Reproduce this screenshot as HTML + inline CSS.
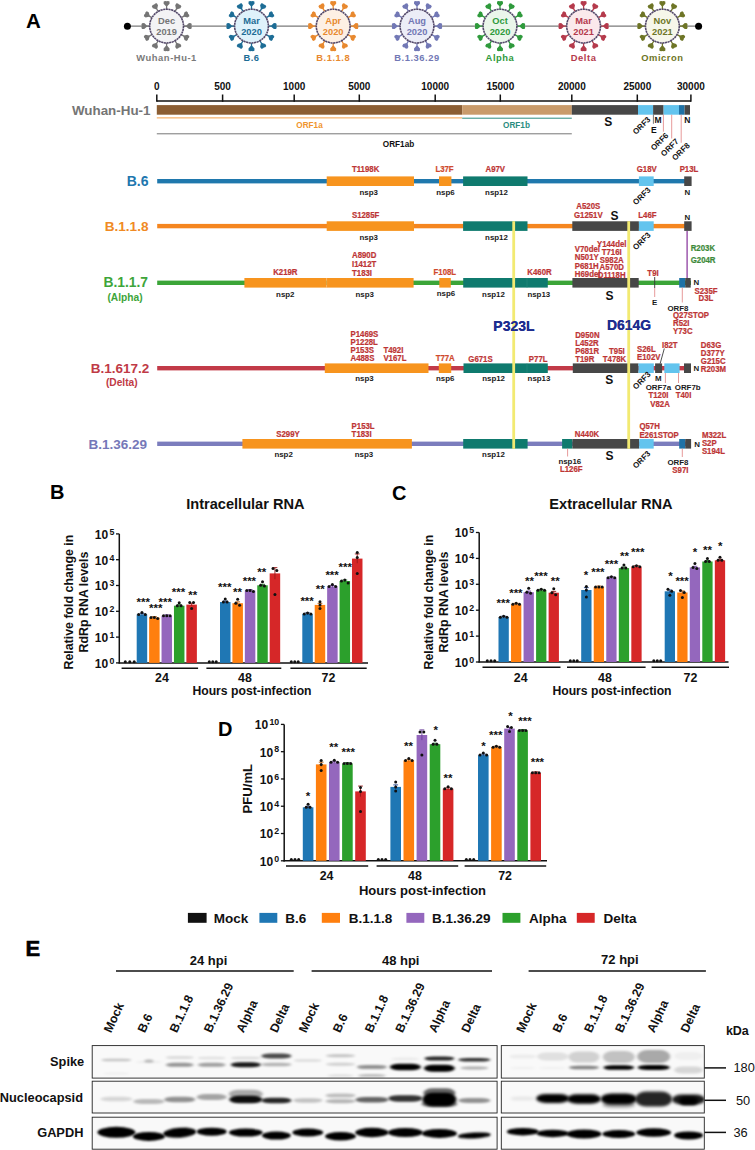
<!DOCTYPE html>
<html><head><meta charset="utf-8"><style>
html,body{margin:0;padding:0;background:#fff;}
body{width:755px;height:1150px;overflow:hidden;}
svg{display:block;font-family:"Liberation Sans", sans-serif;}
</style></head><body>
<svg width="755" height="1150" viewBox="0 0 755 1150">
<rect width="755" height="1150" fill="#fff"/>
<line x1="127.00" y1="26.20" x2="699.00" y2="26.20" stroke="#7a7a7a" stroke-width="1.3" />
<circle cx="127.4" cy="26.3" r="3.5" fill="#000"/>
<circle cx="698.6" cy="26.3" r="3.5" fill="#000"/>
<g>
<line x1="183.60" y1="26.10" x2="187.60" y2="26.10" stroke="#757575" stroke-width="1.3" />
<polygon points="186.60,26.90 189.00,29.10 191.20,29.00 191.80,27.50 191.40,26.10 191.80,24.70 191.20,23.20 189.00,23.10 186.60,25.30" fill="#757575"/>
<line x1="181.32" y1="34.60" x2="184.79" y2="36.60" stroke="#757575" stroke-width="1.3" />
<polygon points="183.52,36.79 184.50,39.90 186.45,40.91 187.72,39.91 188.08,38.50 189.12,37.49 189.35,35.89 187.50,34.70 184.32,35.41" fill="#757575"/>
<line x1="175.10" y1="40.82" x2="177.10" y2="44.29" stroke="#757575" stroke-width="1.3" />
<polygon points="175.91,43.82 175.20,47.00 176.39,48.85 177.99,48.62 179.00,47.58 180.41,47.22 181.41,45.95 180.40,44.00 177.29,43.02" fill="#757575"/>
<line x1="166.60" y1="43.10" x2="166.60" y2="47.10" stroke="#757575" stroke-width="1.3" />
<polygon points="165.80,46.10 163.60,48.50 163.70,50.70 165.20,51.30 166.60,50.90 168.00,51.30 169.50,50.70 169.60,48.50 167.40,46.10" fill="#757575"/>
<line x1="158.10" y1="40.82" x2="156.10" y2="44.29" stroke="#757575" stroke-width="1.3" />
<polygon points="155.91,43.02 152.80,44.00 151.79,45.95 152.79,47.22 154.20,47.58 155.21,48.62 156.81,48.85 158.00,47.00 157.29,43.82" fill="#757575"/>
<line x1="151.88" y1="34.60" x2="148.41" y2="36.60" stroke="#757575" stroke-width="1.3" />
<polygon points="148.88,35.41 145.70,34.70 143.85,35.89 144.08,37.49 145.12,38.50 145.48,39.91 146.75,40.91 148.70,39.90 149.68,36.79" fill="#757575"/>
<line x1="149.60" y1="26.10" x2="145.60" y2="26.10" stroke="#757575" stroke-width="1.3" />
<polygon points="146.60,25.30 144.20,23.10 142.00,23.20 141.40,24.70 141.80,26.10 141.40,27.50 142.00,29.00 144.20,29.10 146.60,26.90" fill="#757575"/>
<line x1="151.88" y1="17.60" x2="148.41" y2="15.60" stroke="#757575" stroke-width="1.3" />
<polygon points="149.68,15.41 148.70,12.30 146.75,11.29 145.48,12.29 145.12,13.70 144.08,14.71 143.85,16.31 145.70,17.50 148.88,16.79" fill="#757575"/>
<line x1="158.10" y1="11.38" x2="156.10" y2="7.91" stroke="#757575" stroke-width="1.3" />
<polygon points="157.29,8.38 158.00,5.20 156.81,3.35 155.21,3.58 154.20,4.62 152.79,4.98 151.79,6.25 152.80,8.20 155.91,9.18" fill="#757575"/>
<line x1="166.60" y1="9.10" x2="166.60" y2="5.10" stroke="#757575" stroke-width="1.3" />
<polygon points="167.40,6.10 169.60,3.70 169.50,1.50 168.00,0.90 166.60,1.30 165.20,0.90 163.70,1.50 163.60,3.70 165.80,6.10" fill="#757575"/>
<line x1="175.10" y1="11.38" x2="177.10" y2="7.91" stroke="#757575" stroke-width="1.3" />
<polygon points="177.29,9.18 180.40,8.20 181.41,6.25 180.41,4.98 179.00,4.62 177.99,3.58 176.39,3.35 175.20,5.20 175.91,8.38" fill="#757575"/>
<line x1="181.32" y1="17.60" x2="184.79" y2="15.60" stroke="#757575" stroke-width="1.3" />
<polygon points="184.32,16.79 187.50,17.50 189.35,16.31 189.12,14.71 188.08,13.70 187.72,12.29 186.45,11.29 184.50,12.30 183.52,15.41" fill="#757575"/>
<circle cx="166.6" cy="26.1" r="16.9" fill="#f3f3f5" stroke="#54496a" stroke-width="1.6" stroke-dasharray="2.2 0.5"/>
<text x="166.60" y="24.23" font-size="9.3" fill="#757575" text-anchor="middle" font-weight="bold" >Dec</text>
<text x="166.60" y="35.03" font-size="9.3" fill="#757575" text-anchor="middle" font-weight="bold" >2019</text>
<text x="166.60" y="61.17" font-size="9.4" fill="#7a7a7a" text-anchor="middle" font-weight="bold" letter-spacing="0.55">Wuhan-Hu-1</text>
</g>
<g>
<line x1="268.50" y1="26.10" x2="272.50" y2="26.10" stroke="#1d6d96" stroke-width="1.3" />
<polygon points="271.50,26.90 273.90,29.10 276.10,29.00 276.70,27.50 276.30,26.10 276.70,24.70 276.10,23.20 273.90,23.10 271.50,25.30" fill="#1d6d96"/>
<line x1="266.22" y1="34.60" x2="269.69" y2="36.60" stroke="#1d6d96" stroke-width="1.3" />
<polygon points="268.42,36.79 269.40,39.90 271.35,40.91 272.62,39.91 272.98,38.50 274.02,37.49 274.25,35.89 272.40,34.70 269.22,35.41" fill="#1d6d96"/>
<line x1="260.00" y1="40.82" x2="262.00" y2="44.29" stroke="#1d6d96" stroke-width="1.3" />
<polygon points="260.81,43.82 260.10,47.00 261.29,48.85 262.89,48.62 263.90,47.58 265.31,47.22 266.31,45.95 265.30,44.00 262.19,43.02" fill="#1d6d96"/>
<line x1="251.50" y1="43.10" x2="251.50" y2="47.10" stroke="#1d6d96" stroke-width="1.3" />
<polygon points="250.70,46.10 248.50,48.50 248.60,50.70 250.10,51.30 251.50,50.90 252.90,51.30 254.40,50.70 254.50,48.50 252.30,46.10" fill="#1d6d96"/>
<line x1="243.00" y1="40.82" x2="241.00" y2="44.29" stroke="#1d6d96" stroke-width="1.3" />
<polygon points="240.81,43.02 237.70,44.00 236.69,45.95 237.69,47.22 239.10,47.58 240.11,48.62 241.71,48.85 242.90,47.00 242.19,43.82" fill="#1d6d96"/>
<line x1="236.78" y1="34.60" x2="233.31" y2="36.60" stroke="#1d6d96" stroke-width="1.3" />
<polygon points="233.78,35.41 230.60,34.70 228.75,35.89 228.98,37.49 230.02,38.50 230.38,39.91 231.65,40.91 233.60,39.90 234.58,36.79" fill="#1d6d96"/>
<line x1="234.50" y1="26.10" x2="230.50" y2="26.10" stroke="#1d6d96" stroke-width="1.3" />
<polygon points="231.50,25.30 229.10,23.10 226.90,23.20 226.30,24.70 226.70,26.10 226.30,27.50 226.90,29.00 229.10,29.10 231.50,26.90" fill="#1d6d96"/>
<line x1="236.78" y1="17.60" x2="233.31" y2="15.60" stroke="#1d6d96" stroke-width="1.3" />
<polygon points="234.58,15.41 233.60,12.30 231.65,11.29 230.38,12.29 230.02,13.70 228.98,14.71 228.75,16.31 230.60,17.50 233.78,16.79" fill="#1d6d96"/>
<line x1="243.00" y1="11.38" x2="241.00" y2="7.91" stroke="#1d6d96" stroke-width="1.3" />
<polygon points="242.19,8.38 242.90,5.20 241.71,3.35 240.11,3.58 239.10,4.62 237.69,4.98 236.69,6.25 237.70,8.20 240.81,9.18" fill="#1d6d96"/>
<line x1="251.50" y1="9.10" x2="251.50" y2="5.10" stroke="#1d6d96" stroke-width="1.3" />
<polygon points="252.30,6.10 254.50,3.70 254.40,1.50 252.90,0.90 251.50,1.30 250.10,0.90 248.60,1.50 248.50,3.70 250.70,6.10" fill="#1d6d96"/>
<line x1="260.00" y1="11.38" x2="262.00" y2="7.91" stroke="#1d6d96" stroke-width="1.3" />
<polygon points="262.19,9.18 265.30,8.20 266.31,6.25 265.31,4.98 263.90,4.62 262.89,3.58 261.29,3.35 260.10,5.20 260.81,8.38" fill="#1d6d96"/>
<line x1="266.22" y1="17.60" x2="269.69" y2="15.60" stroke="#1d6d96" stroke-width="1.3" />
<polygon points="269.22,16.79 272.40,17.50 274.25,16.31 274.02,14.71 272.98,13.70 272.62,12.29 271.35,11.29 269.40,12.30 268.42,15.41" fill="#1d6d96"/>
<circle cx="251.5" cy="26.1" r="16.9" fill="#dff2fb" stroke="#54496a" stroke-width="1.6" stroke-dasharray="2.2 0.5"/>
<text x="251.50" y="24.23" font-size="9.3" fill="#1d6d96" text-anchor="middle" font-weight="bold" >Mar</text>
<text x="251.50" y="35.03" font-size="9.3" fill="#1d6d96" text-anchor="middle" font-weight="bold" >2020</text>
<text x="251.50" y="61.17" font-size="9.4" fill="#1d6d96" text-anchor="middle" font-weight="bold" letter-spacing="0.55">B.6</text>
</g>
<g>
<line x1="350.20" y1="26.10" x2="354.20" y2="26.10" stroke="#e8892f" stroke-width="1.3" />
<polygon points="353.20,26.90 355.60,29.10 357.80,29.00 358.40,27.50 358.00,26.10 358.40,24.70 357.80,23.20 355.60,23.10 353.20,25.30" fill="#e8892f"/>
<line x1="347.92" y1="34.60" x2="351.39" y2="36.60" stroke="#e8892f" stroke-width="1.3" />
<polygon points="350.12,36.79 351.10,39.90 353.05,40.91 354.32,39.91 354.68,38.50 355.72,37.49 355.95,35.89 354.10,34.70 350.92,35.41" fill="#e8892f"/>
<line x1="341.70" y1="40.82" x2="343.70" y2="44.29" stroke="#e8892f" stroke-width="1.3" />
<polygon points="342.51,43.82 341.80,47.00 342.99,48.85 344.59,48.62 345.60,47.58 347.01,47.22 348.01,45.95 347.00,44.00 343.89,43.02" fill="#e8892f"/>
<line x1="333.20" y1="43.10" x2="333.20" y2="47.10" stroke="#e8892f" stroke-width="1.3" />
<polygon points="332.40,46.10 330.20,48.50 330.30,50.70 331.80,51.30 333.20,50.90 334.60,51.30 336.10,50.70 336.20,48.50 334.00,46.10" fill="#e8892f"/>
<line x1="324.70" y1="40.82" x2="322.70" y2="44.29" stroke="#e8892f" stroke-width="1.3" />
<polygon points="322.51,43.02 319.40,44.00 318.39,45.95 319.39,47.22 320.80,47.58 321.81,48.62 323.41,48.85 324.60,47.00 323.89,43.82" fill="#e8892f"/>
<line x1="318.48" y1="34.60" x2="315.01" y2="36.60" stroke="#e8892f" stroke-width="1.3" />
<polygon points="315.48,35.41 312.30,34.70 310.45,35.89 310.68,37.49 311.72,38.50 312.08,39.91 313.35,40.91 315.30,39.90 316.28,36.79" fill="#e8892f"/>
<line x1="316.20" y1="26.10" x2="312.20" y2="26.10" stroke="#e8892f" stroke-width="1.3" />
<polygon points="313.20,25.30 310.80,23.10 308.60,23.20 308.00,24.70 308.40,26.10 308.00,27.50 308.60,29.00 310.80,29.10 313.20,26.90" fill="#e8892f"/>
<line x1="318.48" y1="17.60" x2="315.01" y2="15.60" stroke="#e8892f" stroke-width="1.3" />
<polygon points="316.28,15.41 315.30,12.30 313.35,11.29 312.08,12.29 311.72,13.70 310.68,14.71 310.45,16.31 312.30,17.50 315.48,16.79" fill="#e8892f"/>
<line x1="324.70" y1="11.38" x2="322.70" y2="7.91" stroke="#e8892f" stroke-width="1.3" />
<polygon points="323.89,8.38 324.60,5.20 323.41,3.35 321.81,3.58 320.80,4.62 319.39,4.98 318.39,6.25 319.40,8.20 322.51,9.18" fill="#e8892f"/>
<line x1="333.20" y1="9.10" x2="333.20" y2="5.10" stroke="#e8892f" stroke-width="1.3" />
<polygon points="334.00,6.10 336.20,3.70 336.10,1.50 334.60,0.90 333.20,1.30 331.80,0.90 330.30,1.50 330.20,3.70 332.40,6.10" fill="#e8892f"/>
<line x1="341.70" y1="11.38" x2="343.70" y2="7.91" stroke="#e8892f" stroke-width="1.3" />
<polygon points="343.89,9.18 347.00,8.20 348.01,6.25 347.01,4.98 345.60,4.62 344.59,3.58 342.99,3.35 341.80,5.20 342.51,8.38" fill="#e8892f"/>
<line x1="347.92" y1="17.60" x2="351.39" y2="15.60" stroke="#e8892f" stroke-width="1.3" />
<polygon points="350.92,16.79 354.10,17.50 355.95,16.31 355.72,14.71 354.68,13.70 354.32,12.29 353.05,11.29 351.10,12.30 350.12,15.41" fill="#e8892f"/>
<circle cx="333.2" cy="26.1" r="16.9" fill="#fdf0e4" stroke="#54496a" stroke-width="1.6" stroke-dasharray="2.2 0.5"/>
<text x="333.20" y="24.23" font-size="9.3" fill="#e8892f" text-anchor="middle" font-weight="bold" >Apr</text>
<text x="333.20" y="35.03" font-size="9.3" fill="#e8892f" text-anchor="middle" font-weight="bold" >2020</text>
<text x="333.20" y="61.17" font-size="9.4" fill="#e8892f" text-anchor="middle" font-weight="bold" letter-spacing="0.55">B.1.1.8</text>
</g>
<g>
<line x1="434.00" y1="26.10" x2="438.00" y2="26.10" stroke="#7278b5" stroke-width="1.3" />
<polygon points="437.00,26.90 439.40,29.10 441.60,29.00 442.20,27.50 441.80,26.10 442.20,24.70 441.60,23.20 439.40,23.10 437.00,25.30" fill="#7278b5"/>
<line x1="431.72" y1="34.60" x2="435.19" y2="36.60" stroke="#7278b5" stroke-width="1.3" />
<polygon points="433.92,36.79 434.90,39.90 436.85,40.91 438.12,39.91 438.48,38.50 439.52,37.49 439.75,35.89 437.90,34.70 434.72,35.41" fill="#7278b5"/>
<line x1="425.50" y1="40.82" x2="427.50" y2="44.29" stroke="#7278b5" stroke-width="1.3" />
<polygon points="426.31,43.82 425.60,47.00 426.79,48.85 428.39,48.62 429.40,47.58 430.81,47.22 431.81,45.95 430.80,44.00 427.69,43.02" fill="#7278b5"/>
<line x1="417.00" y1="43.10" x2="417.00" y2="47.10" stroke="#7278b5" stroke-width="1.3" />
<polygon points="416.20,46.10 414.00,48.50 414.10,50.70 415.60,51.30 417.00,50.90 418.40,51.30 419.90,50.70 420.00,48.50 417.80,46.10" fill="#7278b5"/>
<line x1="408.50" y1="40.82" x2="406.50" y2="44.29" stroke="#7278b5" stroke-width="1.3" />
<polygon points="406.31,43.02 403.20,44.00 402.19,45.95 403.19,47.22 404.60,47.58 405.61,48.62 407.21,48.85 408.40,47.00 407.69,43.82" fill="#7278b5"/>
<line x1="402.28" y1="34.60" x2="398.81" y2="36.60" stroke="#7278b5" stroke-width="1.3" />
<polygon points="399.28,35.41 396.10,34.70 394.25,35.89 394.48,37.49 395.52,38.50 395.88,39.91 397.15,40.91 399.10,39.90 400.08,36.79" fill="#7278b5"/>
<line x1="400.00" y1="26.10" x2="396.00" y2="26.10" stroke="#7278b5" stroke-width="1.3" />
<polygon points="397.00,25.30 394.60,23.10 392.40,23.20 391.80,24.70 392.20,26.10 391.80,27.50 392.40,29.00 394.60,29.10 397.00,26.90" fill="#7278b5"/>
<line x1="402.28" y1="17.60" x2="398.81" y2="15.60" stroke="#7278b5" stroke-width="1.3" />
<polygon points="400.08,15.41 399.10,12.30 397.15,11.29 395.88,12.29 395.52,13.70 394.48,14.71 394.25,16.31 396.10,17.50 399.28,16.79" fill="#7278b5"/>
<line x1="408.50" y1="11.38" x2="406.50" y2="7.91" stroke="#7278b5" stroke-width="1.3" />
<polygon points="407.69,8.38 408.40,5.20 407.21,3.35 405.61,3.58 404.60,4.62 403.19,4.98 402.19,6.25 403.20,8.20 406.31,9.18" fill="#7278b5"/>
<line x1="417.00" y1="9.10" x2="417.00" y2="5.10" stroke="#7278b5" stroke-width="1.3" />
<polygon points="417.80,6.10 420.00,3.70 419.90,1.50 418.40,0.90 417.00,1.30 415.60,0.90 414.10,1.50 414.00,3.70 416.20,6.10" fill="#7278b5"/>
<line x1="425.50" y1="11.38" x2="427.50" y2="7.91" stroke="#7278b5" stroke-width="1.3" />
<polygon points="427.69,9.18 430.80,8.20 431.81,6.25 430.81,4.98 429.40,4.62 428.39,3.58 426.79,3.35 425.60,5.20 426.31,8.38" fill="#7278b5"/>
<line x1="431.72" y1="17.60" x2="435.19" y2="15.60" stroke="#7278b5" stroke-width="1.3" />
<polygon points="434.72,16.79 437.90,17.50 439.75,16.31 439.52,14.71 438.48,13.70 438.12,12.29 436.85,11.29 434.90,12.30 433.92,15.41" fill="#7278b5"/>
<circle cx="417.0" cy="26.1" r="16.9" fill="#ecedf7" stroke="#54496a" stroke-width="1.6" stroke-dasharray="2.2 0.5"/>
<text x="417.00" y="24.23" font-size="9.3" fill="#7278b5" text-anchor="middle" font-weight="bold" >Aug</text>
<text x="417.00" y="35.03" font-size="9.3" fill="#7278b5" text-anchor="middle" font-weight="bold" >2020</text>
<text x="417.00" y="61.17" font-size="9.4" fill="#7278b5" text-anchor="middle" font-weight="bold" letter-spacing="0.55">B.1.36.29</text>
</g>
<g>
<line x1="517.00" y1="26.10" x2="521.00" y2="26.10" stroke="#2f9a3c" stroke-width="1.3" />
<polygon points="520.00,26.90 522.40,29.10 524.60,29.00 525.20,27.50 524.80,26.10 525.20,24.70 524.60,23.20 522.40,23.10 520.00,25.30" fill="#2f9a3c"/>
<line x1="514.72" y1="34.60" x2="518.19" y2="36.60" stroke="#2f9a3c" stroke-width="1.3" />
<polygon points="516.92,36.79 517.90,39.90 519.85,40.91 521.12,39.91 521.48,38.50 522.52,37.49 522.75,35.89 520.90,34.70 517.72,35.41" fill="#2f9a3c"/>
<line x1="508.50" y1="40.82" x2="510.50" y2="44.29" stroke="#2f9a3c" stroke-width="1.3" />
<polygon points="509.31,43.82 508.60,47.00 509.79,48.85 511.39,48.62 512.40,47.58 513.81,47.22 514.81,45.95 513.80,44.00 510.69,43.02" fill="#2f9a3c"/>
<line x1="500.00" y1="43.10" x2="500.00" y2="47.10" stroke="#2f9a3c" stroke-width="1.3" />
<polygon points="499.20,46.10 497.00,48.50 497.10,50.70 498.60,51.30 500.00,50.90 501.40,51.30 502.90,50.70 503.00,48.50 500.80,46.10" fill="#2f9a3c"/>
<line x1="491.50" y1="40.82" x2="489.50" y2="44.29" stroke="#2f9a3c" stroke-width="1.3" />
<polygon points="489.31,43.02 486.20,44.00 485.19,45.95 486.19,47.22 487.60,47.58 488.61,48.62 490.21,48.85 491.40,47.00 490.69,43.82" fill="#2f9a3c"/>
<line x1="485.28" y1="34.60" x2="481.81" y2="36.60" stroke="#2f9a3c" stroke-width="1.3" />
<polygon points="482.28,35.41 479.10,34.70 477.25,35.89 477.48,37.49 478.52,38.50 478.88,39.91 480.15,40.91 482.10,39.90 483.08,36.79" fill="#2f9a3c"/>
<line x1="483.00" y1="26.10" x2="479.00" y2="26.10" stroke="#2f9a3c" stroke-width="1.3" />
<polygon points="480.00,25.30 477.60,23.10 475.40,23.20 474.80,24.70 475.20,26.10 474.80,27.50 475.40,29.00 477.60,29.10 480.00,26.90" fill="#2f9a3c"/>
<line x1="485.28" y1="17.60" x2="481.81" y2="15.60" stroke="#2f9a3c" stroke-width="1.3" />
<polygon points="483.08,15.41 482.10,12.30 480.15,11.29 478.88,12.29 478.52,13.70 477.48,14.71 477.25,16.31 479.10,17.50 482.28,16.79" fill="#2f9a3c"/>
<line x1="491.50" y1="11.38" x2="489.50" y2="7.91" stroke="#2f9a3c" stroke-width="1.3" />
<polygon points="490.69,8.38 491.40,5.20 490.21,3.35 488.61,3.58 487.60,4.62 486.19,4.98 485.19,6.25 486.20,8.20 489.31,9.18" fill="#2f9a3c"/>
<line x1="500.00" y1="9.10" x2="500.00" y2="5.10" stroke="#2f9a3c" stroke-width="1.3" />
<polygon points="500.80,6.10 503.00,3.70 502.90,1.50 501.40,0.90 500.00,1.30 498.60,0.90 497.10,1.50 497.00,3.70 499.20,6.10" fill="#2f9a3c"/>
<line x1="508.50" y1="11.38" x2="510.50" y2="7.91" stroke="#2f9a3c" stroke-width="1.3" />
<polygon points="510.69,9.18 513.80,8.20 514.81,6.25 513.81,4.98 512.40,4.62 511.39,3.58 509.79,3.35 508.60,5.20 509.31,8.38" fill="#2f9a3c"/>
<line x1="514.72" y1="17.60" x2="518.19" y2="15.60" stroke="#2f9a3c" stroke-width="1.3" />
<polygon points="517.72,16.79 520.90,17.50 522.75,16.31 522.52,14.71 521.48,13.70 521.12,12.29 519.85,11.29 517.90,12.30 516.92,15.41" fill="#2f9a3c"/>
<circle cx="500.0" cy="26.1" r="16.9" fill="#eaf6ea" stroke="#54496a" stroke-width="1.6" stroke-dasharray="2.2 0.5"/>
<text x="500.00" y="24.23" font-size="9.3" fill="#2f9a3c" text-anchor="middle" font-weight="bold" >Oct</text>
<text x="500.00" y="35.03" font-size="9.3" fill="#2f9a3c" text-anchor="middle" font-weight="bold" >2020</text>
<text x="500.00" y="61.17" font-size="9.4" fill="#2f9a3c" text-anchor="middle" font-weight="bold" letter-spacing="0.55">Alpha</text>
</g>
<g>
<line x1="600.60" y1="26.10" x2="604.60" y2="26.10" stroke="#b53a4c" stroke-width="1.3" />
<polygon points="603.60,26.90 606.00,29.10 608.20,29.00 608.80,27.50 608.40,26.10 608.80,24.70 608.20,23.20 606.00,23.10 603.60,25.30" fill="#b53a4c"/>
<line x1="598.32" y1="34.60" x2="601.79" y2="36.60" stroke="#b53a4c" stroke-width="1.3" />
<polygon points="600.52,36.79 601.50,39.90 603.45,40.91 604.72,39.91 605.08,38.50 606.12,37.49 606.35,35.89 604.50,34.70 601.32,35.41" fill="#b53a4c"/>
<line x1="592.10" y1="40.82" x2="594.10" y2="44.29" stroke="#b53a4c" stroke-width="1.3" />
<polygon points="592.91,43.82 592.20,47.00 593.39,48.85 594.99,48.62 596.00,47.58 597.41,47.22 598.41,45.95 597.40,44.00 594.29,43.02" fill="#b53a4c"/>
<line x1="583.60" y1="43.10" x2="583.60" y2="47.10" stroke="#b53a4c" stroke-width="1.3" />
<polygon points="582.80,46.10 580.60,48.50 580.70,50.70 582.20,51.30 583.60,50.90 585.00,51.30 586.50,50.70 586.60,48.50 584.40,46.10" fill="#b53a4c"/>
<line x1="575.10" y1="40.82" x2="573.10" y2="44.29" stroke="#b53a4c" stroke-width="1.3" />
<polygon points="572.91,43.02 569.80,44.00 568.79,45.95 569.79,47.22 571.20,47.58 572.21,48.62 573.81,48.85 575.00,47.00 574.29,43.82" fill="#b53a4c"/>
<line x1="568.88" y1="34.60" x2="565.41" y2="36.60" stroke="#b53a4c" stroke-width="1.3" />
<polygon points="565.88,35.41 562.70,34.70 560.85,35.89 561.08,37.49 562.12,38.50 562.48,39.91 563.75,40.91 565.70,39.90 566.68,36.79" fill="#b53a4c"/>
<line x1="566.60" y1="26.10" x2="562.60" y2="26.10" stroke="#b53a4c" stroke-width="1.3" />
<polygon points="563.60,25.30 561.20,23.10 559.00,23.20 558.40,24.70 558.80,26.10 558.40,27.50 559.00,29.00 561.20,29.10 563.60,26.90" fill="#b53a4c"/>
<line x1="568.88" y1="17.60" x2="565.41" y2="15.60" stroke="#b53a4c" stroke-width="1.3" />
<polygon points="566.68,15.41 565.70,12.30 563.75,11.29 562.48,12.29 562.12,13.70 561.08,14.71 560.85,16.31 562.70,17.50 565.88,16.79" fill="#b53a4c"/>
<line x1="575.10" y1="11.38" x2="573.10" y2="7.91" stroke="#b53a4c" stroke-width="1.3" />
<polygon points="574.29,8.38 575.00,5.20 573.81,3.35 572.21,3.58 571.20,4.62 569.79,4.98 568.79,6.25 569.80,8.20 572.91,9.18" fill="#b53a4c"/>
<line x1="583.60" y1="9.10" x2="583.60" y2="5.10" stroke="#b53a4c" stroke-width="1.3" />
<polygon points="584.40,6.10 586.60,3.70 586.50,1.50 585.00,0.90 583.60,1.30 582.20,0.90 580.70,1.50 580.60,3.70 582.80,6.10" fill="#b53a4c"/>
<line x1="592.10" y1="11.38" x2="594.10" y2="7.91" stroke="#b53a4c" stroke-width="1.3" />
<polygon points="594.29,9.18 597.40,8.20 598.41,6.25 597.41,4.98 596.00,4.62 594.99,3.58 593.39,3.35 592.20,5.20 592.91,8.38" fill="#b53a4c"/>
<line x1="598.32" y1="17.60" x2="601.79" y2="15.60" stroke="#b53a4c" stroke-width="1.3" />
<polygon points="601.32,16.79 604.50,17.50 606.35,16.31 606.12,14.71 605.08,13.70 604.72,12.29 603.45,11.29 601.50,12.30 600.52,15.41" fill="#b53a4c"/>
<circle cx="583.6" cy="26.1" r="16.9" fill="#fbe9ec" stroke="#54496a" stroke-width="1.6" stroke-dasharray="2.2 0.5"/>
<text x="583.60" y="24.23" font-size="9.3" fill="#b53a4c" text-anchor="middle" font-weight="bold" >Mar</text>
<text x="583.60" y="35.03" font-size="9.3" fill="#b53a4c" text-anchor="middle" font-weight="bold" >2021</text>
<text x="583.60" y="61.17" font-size="9.4" fill="#b53a4c" text-anchor="middle" font-weight="bold" letter-spacing="0.55">Delta</text>
</g>
<g>
<line x1="679.40" y1="26.10" x2="683.40" y2="26.10" stroke="#6e7526" stroke-width="1.3" />
<polygon points="682.40,26.90 684.80,29.10 687.00,29.00 687.60,27.50 687.20,26.10 687.60,24.70 687.00,23.20 684.80,23.10 682.40,25.30" fill="#6e7526"/>
<line x1="677.12" y1="34.60" x2="680.59" y2="36.60" stroke="#6e7526" stroke-width="1.3" />
<polygon points="679.32,36.79 680.30,39.90 682.25,40.91 683.52,39.91 683.88,38.50 684.92,37.49 685.15,35.89 683.30,34.70 680.12,35.41" fill="#6e7526"/>
<line x1="670.90" y1="40.82" x2="672.90" y2="44.29" stroke="#6e7526" stroke-width="1.3" />
<polygon points="671.71,43.82 671.00,47.00 672.19,48.85 673.79,48.62 674.80,47.58 676.21,47.22 677.21,45.95 676.20,44.00 673.09,43.02" fill="#6e7526"/>
<line x1="662.40" y1="43.10" x2="662.40" y2="47.10" stroke="#6e7526" stroke-width="1.3" />
<polygon points="661.60,46.10 659.40,48.50 659.50,50.70 661.00,51.30 662.40,50.90 663.80,51.30 665.30,50.70 665.40,48.50 663.20,46.10" fill="#6e7526"/>
<line x1="653.90" y1="40.82" x2="651.90" y2="44.29" stroke="#6e7526" stroke-width="1.3" />
<polygon points="651.71,43.02 648.60,44.00 647.59,45.95 648.59,47.22 650.00,47.58 651.01,48.62 652.61,48.85 653.80,47.00 653.09,43.82" fill="#6e7526"/>
<line x1="647.68" y1="34.60" x2="644.21" y2="36.60" stroke="#6e7526" stroke-width="1.3" />
<polygon points="644.68,35.41 641.50,34.70 639.65,35.89 639.88,37.49 640.92,38.50 641.28,39.91 642.55,40.91 644.50,39.90 645.48,36.79" fill="#6e7526"/>
<line x1="645.40" y1="26.10" x2="641.40" y2="26.10" stroke="#6e7526" stroke-width="1.3" />
<polygon points="642.40,25.30 640.00,23.10 637.80,23.20 637.20,24.70 637.60,26.10 637.20,27.50 637.80,29.00 640.00,29.10 642.40,26.90" fill="#6e7526"/>
<line x1="647.68" y1="17.60" x2="644.21" y2="15.60" stroke="#6e7526" stroke-width="1.3" />
<polygon points="645.48,15.41 644.50,12.30 642.55,11.29 641.28,12.29 640.92,13.70 639.88,14.71 639.65,16.31 641.50,17.50 644.68,16.79" fill="#6e7526"/>
<line x1="653.90" y1="11.38" x2="651.90" y2="7.91" stroke="#6e7526" stroke-width="1.3" />
<polygon points="653.09,8.38 653.80,5.20 652.61,3.35 651.01,3.58 650.00,4.62 648.59,4.98 647.59,6.25 648.60,8.20 651.71,9.18" fill="#6e7526"/>
<line x1="662.40" y1="9.10" x2="662.40" y2="5.10" stroke="#6e7526" stroke-width="1.3" />
<polygon points="663.20,6.10 665.40,3.70 665.30,1.50 663.80,0.90 662.40,1.30 661.00,0.90 659.50,1.50 659.40,3.70 661.60,6.10" fill="#6e7526"/>
<line x1="670.90" y1="11.38" x2="672.90" y2="7.91" stroke="#6e7526" stroke-width="1.3" />
<polygon points="673.09,9.18 676.20,8.20 677.21,6.25 676.21,4.98 674.80,4.62 673.79,3.58 672.19,3.35 671.00,5.20 671.71,8.38" fill="#6e7526"/>
<line x1="677.12" y1="17.60" x2="680.59" y2="15.60" stroke="#6e7526" stroke-width="1.3" />
<polygon points="680.12,16.79 683.30,17.50 685.15,16.31 684.92,14.71 683.88,13.70 683.52,12.29 682.25,11.29 680.30,12.30 679.32,15.41" fill="#6e7526"/>
<circle cx="662.4" cy="26.1" r="16.9" fill="#f6f6ea" stroke="#54496a" stroke-width="1.6" stroke-dasharray="2.2 0.5"/>
<text x="662.40" y="24.23" font-size="9.3" fill="#6e7526" text-anchor="middle" font-weight="bold" >Nov</text>
<text x="662.40" y="35.03" font-size="9.3" fill="#6e7526" text-anchor="middle" font-weight="bold" >2021</text>
<text x="662.40" y="61.17" font-size="9.4" fill="#6e7526" text-anchor="middle" font-weight="bold" letter-spacing="0.55">Omicron</text>
</g>
<text x="26.00" y="27.94" font-size="20.5" fill="#000" text-anchor="start" font-weight="bold" >A</text>
<line x1="156.80" y1="101.00" x2="691.00" y2="101.00" stroke="#111" stroke-width="1.6" />
<line x1="156.80" y1="94.50" x2="156.80" y2="101.80" stroke="#111" stroke-width="1.5" />
<text x="156.80" y="90.38" font-size="10" fill="#111" text-anchor="middle" font-weight="bold" >0</text>
<line x1="222.60" y1="94.50" x2="222.60" y2="101.80" stroke="#111" stroke-width="1.5" />
<text x="222.60" y="90.38" font-size="10" fill="#111" text-anchor="middle" font-weight="bold" >500</text>
<line x1="294.20" y1="94.50" x2="294.20" y2="101.80" stroke="#111" stroke-width="1.5" />
<text x="294.20" y="90.38" font-size="10" fill="#111" text-anchor="middle" font-weight="bold" >1000</text>
<line x1="359.30" y1="94.50" x2="359.30" y2="101.80" stroke="#111" stroke-width="1.5" />
<text x="359.30" y="90.38" font-size="10" fill="#111" text-anchor="middle" font-weight="bold" >5000</text>
<line x1="435.20" y1="94.50" x2="435.20" y2="101.80" stroke="#111" stroke-width="1.5" />
<text x="435.20" y="90.38" font-size="10" fill="#111" text-anchor="middle" font-weight="bold" >10000</text>
<line x1="500.30" y1="94.50" x2="500.30" y2="101.80" stroke="#111" stroke-width="1.5" />
<text x="500.30" y="90.38" font-size="10" fill="#111" text-anchor="middle" font-weight="bold" >15000</text>
<line x1="571.80" y1="94.50" x2="571.80" y2="101.80" stroke="#111" stroke-width="1.5" />
<text x="571.80" y="90.38" font-size="10" fill="#111" text-anchor="middle" font-weight="bold" >20000</text>
<line x1="637.30" y1="94.50" x2="637.30" y2="101.80" stroke="#111" stroke-width="1.5" />
<text x="637.30" y="90.38" font-size="10" fill="#111" text-anchor="middle" font-weight="bold" >25000</text>
<line x1="690.90" y1="94.50" x2="690.90" y2="101.80" stroke="#111" stroke-width="1.5" />
<text x="690.90" y="90.38" font-size="10" fill="#111" text-anchor="middle" font-weight="bold" >30000</text>
<rect x="156.80" y="105.10" width="305.40" height="9.60" fill="#8b5e34" />
<rect x="462.20" y="105.10" width="109.60" height="9.60" fill="#c99b6b" />
<rect x="571.80" y="105.10" width="66.20" height="9.60" fill="#474747" />
<rect x="638.00" y="105.10" width="15.10" height="9.60" fill="#63c4ee" />
<rect x="653.10" y="105.10" width="10.50" height="9.60" fill="#474747" />
<rect x="663.60" y="105.10" width="15.40" height="9.60" fill="#63c4ee" />
<rect x="679.00" y="105.10" width="5.60" height="9.60" fill="#1f72a6" />
<rect x="684.60" y="105.10" width="5.40" height="9.60" fill="#474747" />
<text x="150.50" y="114.60" font-size="13.4" fill="#757575" text-anchor="end" font-weight="bold" >Wuhan-Hu-1</text>
<line x1="156.80" y1="117.90" x2="462.20" y2="117.90" stroke="#f3a04a" stroke-width="1.0" />
<text x="309.50" y="128.24" font-size="8.2" fill="#f0952e" text-anchor="middle" font-weight="bold" >ORF1a</text>
<line x1="462.20" y1="118.20" x2="571.80" y2="118.20" stroke="#2a8c80" stroke-width="1.0" />
<text x="516.50" y="128.24" font-size="8.2" fill="#2a8c80" text-anchor="middle" font-weight="bold" >ORF1b</text>
<line x1="156.80" y1="133.80" x2="571.80" y2="133.80" stroke="#777" stroke-width="1.0" />
<text x="398.50" y="146.74" font-size="8.2" fill="#111" text-anchor="middle" font-weight="bold" >ORF1ab</text>
<text x="608.30" y="126.10" font-size="12" fill="#111" text-anchor="middle" font-weight="bold" >S</text>
<text x="658.10" y="123.04" font-size="8.5" fill="#111" text-anchor="middle" font-weight="bold" >M</text>
<text x="653.90" y="132.64" font-size="8.5" fill="#111" text-anchor="middle" font-weight="bold" >E</text>
<text x="687.30" y="123.04" font-size="8.5" fill="#111" text-anchor="middle" font-weight="bold" >N</text>
<line x1="653.40" y1="114.70" x2="653.40" y2="123.80" stroke="#555" stroke-width="0.8" />
<line x1="663.40" y1="114.70" x2="663.40" y2="131.70" stroke="#e08080" stroke-width="0.8" />
<line x1="671.70" y1="114.70" x2="671.70" y2="138.50" stroke="#e08080" stroke-width="0.8" />
<line x1="681.20" y1="114.70" x2="681.20" y2="142.80" stroke="#e08080" stroke-width="0.8" />
<text transform="translate(651.00,120.00) rotate(-45)" x="0" y="0" font-size="8.0" fill="#111" text-anchor="end" font-weight="bold">ORF3</text>
<text transform="translate(669.00,136.00) rotate(-45)" x="0" y="0" font-size="8.0" fill="#111" text-anchor="end" font-weight="bold">ORF6</text>
<text transform="translate(679.20,141.80) rotate(-45)" x="0" y="0" font-size="8.0" fill="#111" text-anchor="end" font-weight="bold">ORF7</text>
<text transform="translate(690.30,146.00) rotate(-45)" x="0" y="0" font-size="8.0" fill="#111" text-anchor="end" font-weight="bold">ORF8</text>
<text x="148.50" y="186.21" font-size="14" fill="#2176ae" text-anchor="end" font-weight="bold" >B.6</text>
<rect x="157.20" y="179.00" width="533.80" height="4.40" fill="#1f78ad" />
<rect x="326.70" y="176.40" width="87.30" height="9.60" fill="#f7941e" />
<rect x="439.00" y="176.40" width="12.40" height="9.60" fill="#f7941e" />
<rect x="463.10" y="176.40" width="64.40" height="9.60" fill="#0f7a6e" />
<rect x="638.90" y="176.40" width="14.80" height="9.60" fill="#63c4ee" />
<rect x="684.20" y="176.40" width="7.40" height="9.60" fill="#474747" />
<text transform="translate(365.60,172.11) scale(0.9,1)" x="0" y="0" font-size="8.7" fill="#bd3535" text-anchor="middle" font-weight="bold" stroke="#bd3535" stroke-width="0.22">T1198K</text>
<text transform="translate(444.50,172.11) scale(0.9,1)" x="0" y="0" font-size="8.7" fill="#cf4a2e" text-anchor="middle" font-weight="bold" stroke="#cf4a2e" stroke-width="0.22">L37F</text>
<text transform="translate(495.30,172.11) scale(0.9,1)" x="0" y="0" font-size="8.7" fill="#bd3535" text-anchor="middle" font-weight="bold" stroke="#bd3535" stroke-width="0.22">A97V</text>
<text transform="translate(646.70,172.01) scale(0.9,1)" x="0" y="0" font-size="8.7" fill="#bd3535" text-anchor="middle" font-weight="bold" stroke="#bd3535" stroke-width="0.22">G18V</text>
<text transform="translate(689.00,172.11) scale(0.9,1)" x="0" y="0" font-size="8.7" fill="#bd3535" text-anchor="middle" font-weight="bold" stroke="#bd3535" stroke-width="0.22">P13L</text>
<text x="368.70" y="195.03" font-size="7.9" fill="#1a1a1a" text-anchor="middle" font-weight="bold" >nsp3</text>
<text x="445.50" y="195.03" font-size="7.9" fill="#1a1a1a" text-anchor="middle" font-weight="bold" >nsp6</text>
<text x="496.50" y="195.03" font-size="7.9" fill="#1a1a1a" text-anchor="middle" font-weight="bold" >nsp12</text>
<text x="687.40" y="194.63" font-size="7.9" fill="#1a1a1a" text-anchor="middle" font-weight="bold" >N</text>
<text transform="translate(651.20,190.50) rotate(-45)" x="0" y="0" font-size="8.0" fill="#111" text-anchor="end" font-weight="bold">ORF3</text>
<text x="148.50" y="230.97" font-size="13.6" fill="#f08a24" text-anchor="end" font-weight="bold" >B.1.1.8</text>
<rect x="157.20" y="223.90" width="533.80" height="4.40" fill="#f5861f" />
<rect x="326.70" y="221.30" width="87.30" height="9.60" fill="#f7941e" />
<rect x="463.10" y="221.30" width="64.40" height="9.60" fill="#0f7a6e" />
<rect x="572.30" y="221.30" width="66.60" height="9.60" fill="#474747" />
<rect x="638.90" y="221.30" width="14.80" height="9.60" fill="#63c4ee" />
<rect x="684.20" y="221.30" width="7.40" height="9.60" fill="#474747" />
<text transform="translate(365.60,217.51) scale(0.9,1)" x="0" y="0" font-size="8.7" fill="#bd3535" text-anchor="middle" font-weight="bold" stroke="#bd3535" stroke-width="0.22">S1285F</text>
<text transform="translate(588.30,209.11) scale(0.9,1)" x="0" y="0" font-size="8.7" fill="#bd3535" text-anchor="middle" font-weight="bold" stroke="#bd3535" stroke-width="0.22">A520S</text>
<text transform="translate(588.30,218.41) scale(0.9,1)" x="0" y="0" font-size="8.7" fill="#bd3535" text-anchor="middle" font-weight="bold" stroke="#bd3535" stroke-width="0.22">G1251V</text>
<text x="614.50" y="220.30" font-size="12" fill="#111" text-anchor="middle" font-weight="bold" >S</text>
<text transform="translate(647.40,217.81) scale(0.9,1)" x="0" y="0" font-size="8.7" fill="#bd3535" text-anchor="middle" font-weight="bold" stroke="#bd3535" stroke-width="0.22">L46F</text>
<text x="687.40" y="219.63" font-size="7.9" fill="#1a1a1a" text-anchor="middle" font-weight="bold" >N</text>
<text x="368.70" y="240.33" font-size="7.9" fill="#1a1a1a" text-anchor="middle" font-weight="bold" >nsp3</text>
<text x="496.50" y="240.33" font-size="7.9" fill="#1a1a1a" text-anchor="middle" font-weight="bold" >nsp12</text>
<text transform="translate(651.20,235.50) rotate(-45)" x="0" y="0" font-size="8.0" fill="#111" text-anchor="end" font-weight="bold">ORF3</text>
<line x1="687.10" y1="231.00" x2="687.10" y2="279.30" stroke="#8e3fa0" stroke-width="1.3" />
<text x="148.00" y="286.94" font-size="13.8" fill="#3da53a" text-anchor="end" font-weight="bold" >B.1.1.7</text>
<text x="125.00" y="301.35" font-size="10.2" fill="#3da53a" text-anchor="middle" font-weight="bold" >(Alpha)</text>
<rect x="157.20" y="280.60" width="533.80" height="4.40" fill="#3ba538" />
<rect x="244.40" y="278.00" width="82.20" height="9.60" fill="#f7941e" />
<rect x="326.80" y="278.00" width="86.80" height="9.60" fill="#f7941e" />
<rect x="439.30" y="278.00" width="11.50" height="9.60" fill="#f7941e" />
<rect x="463.20" y="278.00" width="84.60" height="9.60" fill="#0f7a6e" />
<rect x="572.40" y="278.00" width="66.30" height="9.60" fill="#474747" />
<rect x="679.20" y="278.00" width="6.00" height="9.60" fill="#1f72a6" />
<rect x="685.20" y="278.00" width="5.50" height="9.60" fill="#474747" />
<line x1="326.70" y1="278.00" x2="326.70" y2="287.60" stroke="#f9b060" stroke-width="0.6" />
<line x1="527.00" y1="278.00" x2="527.00" y2="287.60" stroke="#2a8a7e" stroke-width="0.6" />
<text transform="translate(285.30,275.31) scale(0.9,1)" x="0" y="0" font-size="8.7" fill="#bd3535" text-anchor="middle" font-weight="bold" stroke="#bd3535" stroke-width="0.22">K219R</text>
<text transform="translate(352.00,258.11) scale(0.9,1)" x="0" y="0" font-size="8.7" fill="#bd3535" text-anchor="start" font-weight="bold" stroke="#bd3535" stroke-width="0.22">A890D</text>
<text transform="translate(352.00,266.91) scale(0.9,1)" x="0" y="0" font-size="8.7" fill="#bd3535" text-anchor="start" font-weight="bold" stroke="#bd3535" stroke-width="0.22">I1412T</text>
<text transform="translate(352.00,275.71) scale(0.9,1)" x="0" y="0" font-size="8.7" fill="#bd3535" text-anchor="start" font-weight="bold" stroke="#bd3535" stroke-width="0.22">T183I</text>
<text transform="translate(444.80,275.11) scale(0.9,1)" x="0" y="0" font-size="8.7" fill="#cf4a2e" text-anchor="middle" font-weight="bold" stroke="#cf4a2e" stroke-width="0.22">F108L</text>
<text transform="translate(539.50,275.11) scale(0.9,1)" x="0" y="0" font-size="8.7" fill="#bd3535" text-anchor="middle" font-weight="bold" stroke="#bd3535" stroke-width="0.22">K460R</text>
<text transform="translate(574.80,252.11) scale(0.9,1)" x="0" y="0" font-size="8.7" fill="#bd3535" text-anchor="start" font-weight="bold" stroke="#bd3535" stroke-width="0.22">V70del</text>
<text transform="translate(574.80,260.41) scale(0.9,1)" x="0" y="0" font-size="8.7" fill="#bd3535" text-anchor="start" font-weight="bold" stroke="#bd3535" stroke-width="0.22">N501Y</text>
<text transform="translate(574.80,268.71) scale(0.9,1)" x="0" y="0" font-size="8.7" fill="#bd3535" text-anchor="start" font-weight="bold" stroke="#bd3535" stroke-width="0.22">P681H</text>
<text transform="translate(574.80,277.01) scale(0.9,1)" x="0" y="0" font-size="8.7" fill="#bd3535" text-anchor="start" font-weight="bold" stroke="#bd3535" stroke-width="0.22">H69del</text>
<text transform="translate(611.70,247.31) scale(0.9,1)" x="0" y="0" font-size="8.7" fill="#bd3535" text-anchor="middle" font-weight="bold" stroke="#bd3535" stroke-width="0.22">Y144del</text>
<text transform="translate(611.70,255.01) scale(0.9,1)" x="0" y="0" font-size="8.7" fill="#bd3535" text-anchor="middle" font-weight="bold" stroke="#bd3535" stroke-width="0.22">T716I</text>
<text transform="translate(611.70,262.71) scale(0.9,1)" x="0" y="0" font-size="8.7" fill="#bd3535" text-anchor="middle" font-weight="bold" stroke="#bd3535" stroke-width="0.22">S982A</text>
<text transform="translate(611.70,270.41) scale(0.9,1)" x="0" y="0" font-size="8.7" fill="#bd3535" text-anchor="middle" font-weight="bold" stroke="#bd3535" stroke-width="0.22">A570D</text>
<text transform="translate(611.70,278.11) scale(0.9,1)" x="0" y="0" font-size="8.7" fill="#bd3535" text-anchor="middle" font-weight="bold" stroke="#bd3535" stroke-width="0.22">D1118H</text>
<text transform="translate(653.00,276.01) scale(0.9,1)" x="0" y="0" font-size="8.7" fill="#bd3535" text-anchor="middle" font-weight="bold" stroke="#bd3535" stroke-width="0.22">T9I</text>
<line x1="654.70" y1="277.00" x2="654.70" y2="288.00" stroke="#333" stroke-width="0.9" />
<line x1="654.70" y1="288.00" x2="654.70" y2="297.00" stroke="#e08080" stroke-width="0.8" />
<text x="654.70" y="304.83" font-size="7.9" fill="#1a1a1a" text-anchor="middle" font-weight="bold" >E</text>
<text x="696.40" y="285.23" font-size="7.9" fill="#1a1a1a" text-anchor="middle" font-weight="bold" >N</text>
<text transform="translate(690.70,251.41) scale(0.9,1)" x="0" y="0" font-size="8.7" fill="#3d8a3a" text-anchor="start" font-weight="bold" stroke="#3d8a3a" stroke-width="0.22">R203K</text>
<text transform="translate(690.70,262.61) scale(0.9,1)" x="0" y="0" font-size="8.7" fill="#3d8a3a" text-anchor="start" font-weight="bold" stroke="#3d8a3a" stroke-width="0.22">G204R</text>
<text transform="translate(706.00,293.61) scale(0.9,1)" x="0" y="0" font-size="8.7" fill="#bd3535" text-anchor="middle" font-weight="bold" stroke="#bd3535" stroke-width="0.22">S235F</text>
<text transform="translate(706.00,300.81) scale(0.9,1)" x="0" y="0" font-size="8.7" fill="#bd3535" text-anchor="middle" font-weight="bold" stroke="#bd3535" stroke-width="0.22">D3L</text>
<line x1="682.30" y1="287.60" x2="682.30" y2="302.50" stroke="#e08080" stroke-width="0.8" />
<text x="678.00" y="310.83" font-size="7.9" fill="#1a1a1a" text-anchor="middle" font-weight="bold" >ORF8</text>
<text transform="translate(673.00,318.11) scale(0.9,1)" x="0" y="0" font-size="8.7" fill="#bd3535" text-anchor="start" font-weight="bold" stroke="#bd3535" stroke-width="0.22">Q27STOP</text>
<text transform="translate(673.00,325.91) scale(0.9,1)" x="0" y="0" font-size="8.7" fill="#bd3535" text-anchor="start" font-weight="bold" stroke="#bd3535" stroke-width="0.22">R52I</text>
<text transform="translate(673.00,333.71) scale(0.9,1)" x="0" y="0" font-size="8.7" fill="#bd3535" text-anchor="start" font-weight="bold" stroke="#bd3535" stroke-width="0.22">Y73C</text>
<text x="285.30" y="297.23" font-size="7.9" fill="#1a1a1a" text-anchor="middle" font-weight="bold" >nsp2</text>
<text x="364.70" y="297.23" font-size="7.9" fill="#1a1a1a" text-anchor="middle" font-weight="bold" >nsp3</text>
<text x="446.00" y="296.33" font-size="7.9" fill="#1a1a1a" text-anchor="middle" font-weight="bold" >nsp6</text>
<text x="493.50" y="297.23" font-size="7.9" fill="#1a1a1a" text-anchor="middle" font-weight="bold" >nsp12</text>
<text x="538.80" y="297.23" font-size="7.9" fill="#1a1a1a" text-anchor="middle" font-weight="bold" >nsp13</text>
<text x="609.40" y="299.60" font-size="12" fill="#111" text-anchor="middle" font-weight="bold" >S</text>
<text transform="translate(513.90,331.05) scale(0.9,1)" x="0" y="0" font-size="15.5" fill="#1e2d8f" text-anchor="middle" font-weight="bold" >P323L</text>
<text transform="translate(629.10,330.15) scale(0.9,1)" x="0" y="0" font-size="15.5" fill="#1e2d8f" text-anchor="middle" font-weight="bold" >D614G</text>
<text x="149.20" y="372.53" font-size="13.5" fill="#c03a46" text-anchor="end" font-weight="bold" >B.1.617.2</text>
<text x="121.80" y="385.65" font-size="10.2" fill="#c03a46" text-anchor="middle" font-weight="bold" >(Delta)</text>
<rect x="157.20" y="366.00" width="533.80" height="4.40" fill="#c23a48" />
<rect x="324.80" y="363.40" width="103.70" height="9.60" fill="#f7941e" />
<rect x="438.80" y="363.40" width="12.40" height="9.60" fill="#f7941e" />
<rect x="463.50" y="363.40" width="84.30" height="9.60" fill="#0f7a6e" />
<rect x="572.80" y="363.40" width="65.70" height="9.60" fill="#474747" />
<rect x="638.50" y="363.40" width="15.30" height="9.60" fill="#63c4ee" />
<rect x="655.10" y="363.40" width="7.00" height="9.60" fill="#474747" />
<rect x="664.30" y="363.40" width="15.30" height="9.60" fill="#63c4ee" />
<rect x="684.00" y="363.40" width="7.00" height="9.60" fill="#474747" />
<line x1="527.00" y1="363.40" x2="527.00" y2="373.00" stroke="#2a8a7e" stroke-width="0.6" />
<text transform="translate(350.50,336.61) scale(0.9,1)" x="0" y="0" font-size="8.7" fill="#bd3535" text-anchor="start" font-weight="bold" stroke="#bd3535" stroke-width="0.22">P1469S</text>
<text transform="translate(350.50,344.81) scale(0.9,1)" x="0" y="0" font-size="8.7" fill="#bd3535" text-anchor="start" font-weight="bold" stroke="#bd3535" stroke-width="0.22">P1228L</text>
<text transform="translate(350.50,353.01) scale(0.9,1)" x="0" y="0" font-size="8.7" fill="#bd3535" text-anchor="start" font-weight="bold" stroke="#bd3535" stroke-width="0.22">P153S</text>
<text transform="translate(350.50,361.21) scale(0.9,1)" x="0" y="0" font-size="8.7" fill="#bd3535" text-anchor="start" font-weight="bold" stroke="#bd3535" stroke-width="0.22">A488S</text>
<text transform="translate(383.40,353.41) scale(0.9,1)" x="0" y="0" font-size="8.7" fill="#bd3535" text-anchor="start" font-weight="bold" stroke="#bd3535" stroke-width="0.22">T492I</text>
<text transform="translate(383.40,361.21) scale(0.9,1)" x="0" y="0" font-size="8.7" fill="#bd3535" text-anchor="start" font-weight="bold" stroke="#bd3535" stroke-width="0.22">V167L</text>
<text transform="translate(445.20,361.11) scale(0.9,1)" x="0" y="0" font-size="8.7" fill="#cf4a2e" text-anchor="middle" font-weight="bold" stroke="#cf4a2e" stroke-width="0.22">T77A</text>
<text transform="translate(480.50,362.01) scale(0.9,1)" x="0" y="0" font-size="8.7" fill="#bd3535" text-anchor="middle" font-weight="bold" stroke="#bd3535" stroke-width="0.22">G671S</text>
<text transform="translate(538.20,362.01) scale(0.9,1)" x="0" y="0" font-size="8.7" fill="#bd3535" text-anchor="middle" font-weight="bold" stroke="#bd3535" stroke-width="0.22">P77L</text>
<text transform="translate(575.20,337.71) scale(0.9,1)" x="0" y="0" font-size="8.7" fill="#bd3535" text-anchor="start" font-weight="bold" stroke="#bd3535" stroke-width="0.22">D950N</text>
<text transform="translate(575.20,345.81) scale(0.9,1)" x="0" y="0" font-size="8.7" fill="#bd3535" text-anchor="start" font-weight="bold" stroke="#bd3535" stroke-width="0.22">L452R</text>
<text transform="translate(575.20,353.91) scale(0.9,1)" x="0" y="0" font-size="8.7" fill="#bd3535" text-anchor="start" font-weight="bold" stroke="#bd3535" stroke-width="0.22">P681R</text>
<text transform="translate(575.20,362.01) scale(0.9,1)" x="0" y="0" font-size="8.7" fill="#bd3535" text-anchor="start" font-weight="bold" stroke="#bd3535" stroke-width="0.22">T19R</text>
<text transform="translate(616.90,354.11) scale(0.9,1)" x="0" y="0" font-size="8.7" fill="#bd3535" text-anchor="middle" font-weight="bold" stroke="#bd3535" stroke-width="0.22">T95I</text>
<text transform="translate(614.50,362.01) scale(0.9,1)" x="0" y="0" font-size="8.7" fill="#bd3535" text-anchor="middle" font-weight="bold" stroke="#bd3535" stroke-width="0.22">T478K</text>
<text transform="translate(637.00,352.01) scale(0.9,1)" x="0" y="0" font-size="8.7" fill="#bd3535" text-anchor="start" font-weight="bold" stroke="#bd3535" stroke-width="0.22">S26L</text>
<text transform="translate(637.00,360.11) scale(0.9,1)" x="0" y="0" font-size="8.7" fill="#bd3535" text-anchor="start" font-weight="bold" stroke="#bd3535" stroke-width="0.22">E102V</text>
<text transform="translate(669.80,347.61) scale(0.9,1)" x="0" y="0" font-size="8.7" fill="#bd3535" text-anchor="middle" font-weight="bold" stroke="#bd3535" stroke-width="0.22">I82T</text>
<line x1="664.30" y1="348.50" x2="660.20" y2="363.40" stroke="#222" stroke-width="0.8" />
<text transform="translate(700.80,348.01) scale(0.9,1)" x="0" y="0" font-size="8.7" fill="#bd3535" text-anchor="start" font-weight="bold" stroke="#bd3535" stroke-width="0.22">D63G</text>
<text transform="translate(700.80,355.91) scale(0.9,1)" x="0" y="0" font-size="8.7" fill="#bd3535" text-anchor="start" font-weight="bold" stroke="#bd3535" stroke-width="0.22">D377Y</text>
<text transform="translate(700.80,363.81) scale(0.9,1)" x="0" y="0" font-size="8.7" fill="#bd3535" text-anchor="start" font-weight="bold" stroke="#bd3535" stroke-width="0.22">G215C</text>
<text transform="translate(700.80,371.71) scale(0.9,1)" x="0" y="0" font-size="8.7" fill="#bd3535" text-anchor="start" font-weight="bold" stroke="#bd3535" stroke-width="0.22">R203M</text>
<text x="696.40" y="370.73" font-size="7.9" fill="#1a1a1a" text-anchor="middle" font-weight="bold" >N</text>
<text x="364.40" y="381.23" font-size="7.9" fill="#1a1a1a" text-anchor="middle" font-weight="bold" >nsp3</text>
<text x="445.20" y="381.23" font-size="7.9" fill="#1a1a1a" text-anchor="middle" font-weight="bold" >nsp6</text>
<text x="493.60" y="381.23" font-size="7.9" fill="#1a1a1a" text-anchor="middle" font-weight="bold" >nsp12</text>
<text x="539.00" y="381.23" font-size="7.9" fill="#1a1a1a" text-anchor="middle" font-weight="bold" >nsp13</text>
<text x="609.30" y="384.20" font-size="12" fill="#111" text-anchor="middle" font-weight="bold" >S</text>
<text x="658.40" y="381.03" font-size="7.9" fill="#1a1a1a" text-anchor="middle" font-weight="bold" >M</text>
<text transform="translate(651.20,374.80) rotate(-45)" x="0" y="0" font-size="8.0" fill="#111" text-anchor="end" font-weight="bold">ORF3</text>
<line x1="665.40" y1="373.00" x2="665.40" y2="383.00" stroke="#e08080" stroke-width="0.8" />
<line x1="678.50" y1="373.00" x2="678.50" y2="383.00" stroke="#e08080" stroke-width="0.8" />
<text x="658.40" y="389.73" font-size="7.9" fill="#1a1a1a" text-anchor="middle" font-weight="bold" >ORF7a</text>
<text x="687.70" y="389.73" font-size="7.9" fill="#1a1a1a" text-anchor="middle" font-weight="bold" >ORF7b</text>
<text transform="translate(658.40,397.91) scale(0.9,1)" x="0" y="0" font-size="8.7" fill="#bd3535" text-anchor="middle" font-weight="bold" stroke="#bd3535" stroke-width="0.22">T120I</text>
<text transform="translate(660.00,407.11) scale(0.9,1)" x="0" y="0" font-size="8.7" fill="#bd3535" text-anchor="middle" font-weight="bold" stroke="#bd3535" stroke-width="0.22">V82A</text>
<text transform="translate(683.50,397.91) scale(0.9,1)" x="0" y="0" font-size="8.7" fill="#bd3535" text-anchor="middle" font-weight="bold" stroke="#bd3535" stroke-width="0.22">T40I</text>
<text x="147.00" y="448.63" font-size="13.5" fill="#7578b8" text-anchor="end" font-weight="bold" >B.1.36.29</text>
<rect x="157.20" y="441.60" width="533.80" height="4.40" fill="#7b7dbd" />
<rect x="242.40" y="439.00" width="169.50" height="9.60" fill="#f7941e" />
<rect x="463.20" y="439.00" width="64.40" height="9.60" fill="#0f7a6e" />
<rect x="562.10" y="439.00" width="10.30" height="9.60" fill="#0f7a6e" />
<rect x="572.40" y="439.00" width="66.80" height="9.60" fill="#474747" />
<rect x="639.20" y="439.00" width="14.50" height="9.60" fill="#63c4ee" />
<rect x="679.20" y="439.00" width="6.00" height="9.60" fill="#1f72a6" />
<rect x="685.20" y="439.00" width="5.90" height="9.60" fill="#474747" />
<text transform="translate(288.00,436.91) scale(0.9,1)" x="0" y="0" font-size="8.7" fill="#bd3535" text-anchor="middle" font-weight="bold" stroke="#bd3535" stroke-width="0.22">S299Y</text>
<text transform="translate(351.60,428.61) scale(0.9,1)" x="0" y="0" font-size="8.7" fill="#bd3535" text-anchor="start" font-weight="bold" stroke="#bd3535" stroke-width="0.22">P153L</text>
<text transform="translate(351.60,436.91) scale(0.9,1)" x="0" y="0" font-size="8.7" fill="#bd3535" text-anchor="start" font-weight="bold" stroke="#bd3535" stroke-width="0.22">T183I</text>
<text transform="translate(587.00,437.21) scale(0.9,1)" x="0" y="0" font-size="8.7" fill="#bd3535" text-anchor="middle" font-weight="bold" stroke="#bd3535" stroke-width="0.22">N440K</text>
<text transform="translate(639.40,428.91) scale(0.9,1)" x="0" y="0" font-size="8.7" fill="#bd3535" text-anchor="start" font-weight="bold" stroke="#bd3535" stroke-width="0.22">Q57H</text>
<text transform="translate(639.40,437.71) scale(0.9,1)" x="0" y="0" font-size="8.7" fill="#bd3535" text-anchor="start" font-weight="bold" stroke="#bd3535" stroke-width="0.22">E261STOP</text>
<text transform="translate(701.90,437.71) scale(0.9,1)" x="0" y="0" font-size="8.7" fill="#bd3535" text-anchor="start" font-weight="bold" stroke="#bd3535" stroke-width="0.22">M322L</text>
<text transform="translate(701.90,445.66) scale(0.9,1)" x="0" y="0" font-size="8.7" fill="#bd3535" text-anchor="start" font-weight="bold" stroke="#bd3535" stroke-width="0.22">S2P</text>
<text transform="translate(701.90,453.61) scale(0.9,1)" x="0" y="0" font-size="8.7" fill="#bd3535" text-anchor="start" font-weight="bold" stroke="#bd3535" stroke-width="0.22">S194L</text>
<text x="697.10" y="446.93" font-size="7.9" fill="#1a1a1a" text-anchor="middle" font-weight="bold" >N</text>
<text x="283.60" y="456.93" font-size="7.9" fill="#1a1a1a" text-anchor="middle" font-weight="bold" >nsp2</text>
<text x="364.00" y="456.93" font-size="7.9" fill="#1a1a1a" text-anchor="middle" font-weight="bold" >nsp3</text>
<text x="493.50" y="456.93" font-size="7.9" fill="#1a1a1a" text-anchor="middle" font-weight="bold" >nsp12</text>
<line x1="567.60" y1="448.60" x2="567.60" y2="456.50" stroke="#e08080" stroke-width="0.8" />
<text x="569.80" y="464.13" font-size="7.9" fill="#1a1a1a" text-anchor="middle" font-weight="bold" >nsp16</text>
<text transform="translate(571.20,471.51) scale(0.9,1)" x="0" y="0" font-size="8.7" fill="#bd3535" text-anchor="middle" font-weight="bold" stroke="#bd3535" stroke-width="0.22">L126F</text>
<text x="609.40" y="459.60" font-size="12" fill="#111" text-anchor="middle" font-weight="bold" >S</text>
<text transform="translate(651.00,454.00) rotate(-45)" x="0" y="0" font-size="8.0" fill="#111" text-anchor="end" font-weight="bold">ORF3</text>
<line x1="682.30" y1="448.60" x2="682.30" y2="457.00" stroke="#e08080" stroke-width="0.8" />
<text x="678.00" y="465.33" font-size="7.9" fill="#1a1a1a" text-anchor="middle" font-weight="bold" >ORF8</text>
<text transform="translate(680.40,473.41) scale(0.9,1)" x="0" y="0" font-size="8.7" fill="#bd3535" text-anchor="middle" font-weight="bold" stroke="#bd3535" stroke-width="0.22">S97I</text>
<rect x="512.30" y="221.20" width="2.80" height="227.60" fill="#f2ea72" />
<rect x="627.30" y="221.20" width="2.80" height="227.60" fill="#f2ea72" />
<text transform="translate(513.90,331.05) scale(0.9,1)" x="0" y="0" font-size="15.5" fill="#1e2d8f" text-anchor="middle" font-weight="bold" >P323L</text>
<text transform="translate(629.10,330.15) scale(0.9,1)" x="0" y="0" font-size="15.5" fill="#1e2d8f" text-anchor="middle" font-weight="bold" >D614G</text>
<line x1="119.30" y1="533.90" x2="119.30" y2="663.50" stroke="#111" stroke-width="1.5" />
<line x1="118.60" y1="662.90" x2="368.00" y2="662.90" stroke="#111" stroke-width="1.5" />
<line x1="116.00" y1="662.90" x2="119.30" y2="662.90" stroke="#111" stroke-width="1.3" />
<text x="114.30" y="667.80" font-size="12.0" font-weight="bold" fill="#111" text-anchor="end">10<tspan dx="1.2" font-size="8.8" dy="-4.1">0</tspan></text>
<line x1="116.00" y1="637.10" x2="119.30" y2="637.10" stroke="#111" stroke-width="1.3" />
<text x="114.30" y="642.00" font-size="12.0" font-weight="bold" fill="#111" text-anchor="end">10<tspan dx="1.2" font-size="8.8" dy="-4.1">1</tspan></text>
<line x1="116.00" y1="611.30" x2="119.30" y2="611.30" stroke="#111" stroke-width="1.3" />
<text x="114.30" y="616.20" font-size="12.0" font-weight="bold" fill="#111" text-anchor="end">10<tspan dx="1.2" font-size="8.8" dy="-4.1">2</tspan></text>
<line x1="116.00" y1="585.50" x2="119.30" y2="585.50" stroke="#111" stroke-width="1.3" />
<text x="114.30" y="590.40" font-size="12.0" font-weight="bold" fill="#111" text-anchor="end">10<tspan dx="1.2" font-size="8.8" dy="-4.1">3</tspan></text>
<line x1="116.00" y1="559.70" x2="119.30" y2="559.70" stroke="#111" stroke-width="1.3" />
<text x="114.30" y="564.60" font-size="12.0" font-weight="bold" fill="#111" text-anchor="end">10<tspan dx="1.2" font-size="8.8" dy="-4.1">4</tspan></text>
<line x1="116.00" y1="533.90" x2="119.30" y2="533.90" stroke="#111" stroke-width="1.3" />
<text x="114.30" y="538.80" font-size="12.0" font-weight="bold" fill="#111" text-anchor="end">10<tspan dx="1.2" font-size="8.8" dy="-4.1">5</tspan></text>
<circle cx="125.30" cy="661.70" r="1.5" fill="#111"/>
<circle cx="129.75" cy="661.70" r="1.5" fill="#111"/>
<circle cx="134.20" cy="661.70" r="1.5" fill="#111"/>
<rect x="136.70" y="614.40" width="10.50" height="48.50" fill="#1f77b4" />
<line x1="141.95" y1="613.40" x2="141.95" y2="615.40" stroke="#1b3f8a" stroke-width="0.9" />
<line x1="139.55" y1="613.40" x2="144.35" y2="613.40" stroke="#1b3f8a" stroke-width="0.9" />
<circle cx="141.95" cy="612.40" r="1.5" fill="#111"/>
<circle cx="138.65" cy="614.40" r="1.5" fill="#111"/>
<circle cx="145.25" cy="614.40" r="1.5" fill="#111"/>
<rect x="149.12" y="617.60" width="10.50" height="45.30" fill="#ff7f0e" />
<line x1="154.37" y1="616.60" x2="154.37" y2="618.60" stroke="#b35a10" stroke-width="0.9" />
<line x1="151.97" y1="616.60" x2="156.77" y2="616.60" stroke="#b35a10" stroke-width="0.9" />
<circle cx="154.37" cy="617.60" r="1.5" fill="#111"/>
<circle cx="151.07" cy="617.60" r="1.5" fill="#111"/>
<circle cx="157.67" cy="618.60" r="1.5" fill="#111"/>
<rect x="161.54" y="615.80" width="10.50" height="47.10" fill="#9467bd" />
<line x1="166.79" y1="614.80" x2="166.79" y2="616.80" stroke="#6a3d9a" stroke-width="0.9" />
<line x1="164.39" y1="614.80" x2="169.19" y2="614.80" stroke="#6a3d9a" stroke-width="0.9" />
<circle cx="166.79" cy="615.80" r="1.5" fill="#111"/>
<circle cx="163.49" cy="615.80" r="1.5" fill="#111"/>
<circle cx="170.09" cy="615.80" r="1.5" fill="#111"/>
<rect x="173.96" y="605.70" width="10.50" height="57.20" fill="#2ca02c" />
<line x1="179.21" y1="604.70" x2="179.21" y2="606.70" stroke="#1e6e24" stroke-width="0.9" />
<line x1="176.81" y1="604.70" x2="181.61" y2="604.70" stroke="#1e6e24" stroke-width="0.9" />
<circle cx="179.21" cy="602.70" r="1.5" fill="#111"/>
<circle cx="177.31" cy="605.70" r="1.5" fill="#111"/>
<circle cx="181.11" cy="605.70" r="1.5" fill="#111"/>
<rect x="186.38" y="604.60" width="10.50" height="58.30" fill="#d62728" />
<line x1="191.63" y1="603.27" x2="191.63" y2="605.93" stroke="#9a1a1a" stroke-width="0.9" />
<line x1="189.23" y1="603.27" x2="194.03" y2="603.27" stroke="#9a1a1a" stroke-width="0.9" />
<circle cx="189.73" cy="602.60" r="1.5" fill="#111"/>
<circle cx="193.53" cy="602.60" r="1.5" fill="#111"/>
<circle cx="191.63" cy="608.60" r="1.5" fill="#111"/>
<circle cx="209.30" cy="661.70" r="1.5" fill="#111"/>
<circle cx="212.75" cy="661.70" r="1.5" fill="#111"/>
<circle cx="216.20" cy="661.70" r="1.5" fill="#111"/>
<rect x="220.00" y="602.00" width="10.50" height="60.90" fill="#1f77b4" />
<line x1="225.25" y1="601.00" x2="225.25" y2="603.00" stroke="#1b3f8a" stroke-width="0.9" />
<line x1="222.85" y1="601.00" x2="227.65" y2="601.00" stroke="#1b3f8a" stroke-width="0.9" />
<circle cx="225.25" cy="599.00" r="1.5" fill="#111"/>
<circle cx="223.35" cy="602.00" r="1.5" fill="#111"/>
<circle cx="227.15" cy="602.00" r="1.5" fill="#111"/>
<rect x="232.42" y="603.20" width="10.50" height="59.70" fill="#ff7f0e" />
<line x1="237.67" y1="601.87" x2="237.67" y2="604.53" stroke="#b35a10" stroke-width="0.9" />
<line x1="235.27" y1="601.87" x2="240.07" y2="601.87" stroke="#b35a10" stroke-width="0.9" />
<circle cx="237.67" cy="599.20" r="1.5" fill="#111"/>
<circle cx="235.77" cy="603.20" r="1.5" fill="#111"/>
<circle cx="239.57" cy="605.20" r="1.5" fill="#111"/>
<rect x="244.84" y="590.50" width="10.50" height="72.40" fill="#9467bd" />
<line x1="250.09" y1="589.50" x2="250.09" y2="591.50" stroke="#6a3d9a" stroke-width="0.9" />
<line x1="247.69" y1="589.50" x2="252.49" y2="589.50" stroke="#6a3d9a" stroke-width="0.9" />
<circle cx="250.09" cy="590.50" r="1.5" fill="#111"/>
<circle cx="246.79" cy="590.50" r="1.5" fill="#111"/>
<circle cx="253.39" cy="591.50" r="1.5" fill="#111"/>
<rect x="257.26" y="585.30" width="10.50" height="77.60" fill="#2ca02c" />
<line x1="262.51" y1="584.30" x2="262.51" y2="586.30" stroke="#1e6e24" stroke-width="0.9" />
<line x1="260.11" y1="584.30" x2="264.91" y2="584.30" stroke="#1e6e24" stroke-width="0.9" />
<circle cx="262.51" cy="581.70" r="1.5" fill="#111"/>
<circle cx="260.61" cy="585.30" r="1.5" fill="#111"/>
<circle cx="264.41" cy="586.00" r="1.5" fill="#111"/>
<rect x="269.68" y="573.40" width="10.50" height="89.50" fill="#d62728" />
<line x1="274.93" y1="567.62" x2="274.93" y2="579.18" stroke="#9a1a1a" stroke-width="0.9" />
<line x1="272.53" y1="567.62" x2="277.33" y2="567.62" stroke="#9a1a1a" stroke-width="0.9" />
<circle cx="273.03" cy="568.40" r="1.5" fill="#111"/>
<circle cx="276.83" cy="570.40" r="1.5" fill="#111"/>
<circle cx="274.93" cy="594.40" r="1.5" fill="#111"/>
<circle cx="291.30" cy="661.70" r="1.5" fill="#111"/>
<circle cx="294.75" cy="661.70" r="1.5" fill="#111"/>
<circle cx="298.20" cy="661.70" r="1.5" fill="#111"/>
<rect x="302.30" y="613.90" width="10.50" height="49.00" fill="#1f77b4" />
<line x1="307.55" y1="612.90" x2="307.55" y2="614.90" stroke="#1b3f8a" stroke-width="0.9" />
<line x1="305.15" y1="612.90" x2="309.95" y2="612.90" stroke="#1b3f8a" stroke-width="0.9" />
<circle cx="307.55" cy="612.90" r="1.5" fill="#111"/>
<circle cx="304.25" cy="613.90" r="1.5" fill="#111"/>
<circle cx="310.85" cy="613.90" r="1.5" fill="#111"/>
<rect x="314.72" y="604.90" width="10.50" height="58.00" fill="#ff7f0e" />
<line x1="319.97" y1="603.39" x2="319.97" y2="606.41" stroke="#b35a10" stroke-width="0.9" />
<line x1="317.57" y1="603.39" x2="322.37" y2="603.39" stroke="#b35a10" stroke-width="0.9" />
<circle cx="319.97" cy="601.70" r="1.5" fill="#111"/>
<circle cx="319.97" cy="604.90" r="1.5" fill="#111"/>
<circle cx="319.97" cy="608.50" r="1.5" fill="#111"/>
<rect x="327.14" y="586.50" width="10.50" height="76.40" fill="#9467bd" />
<line x1="332.39" y1="585.50" x2="332.39" y2="587.50" stroke="#6a3d9a" stroke-width="0.9" />
<line x1="329.99" y1="585.50" x2="334.79" y2="585.50" stroke="#6a3d9a" stroke-width="0.9" />
<circle cx="332.39" cy="584.50" r="1.5" fill="#111"/>
<circle cx="329.09" cy="586.50" r="1.5" fill="#111"/>
<circle cx="335.69" cy="586.50" r="1.5" fill="#111"/>
<rect x="339.56" y="581.00" width="10.50" height="81.90" fill="#2ca02c" />
<line x1="344.81" y1="580.00" x2="344.81" y2="582.00" stroke="#1e6e24" stroke-width="0.9" />
<line x1="342.41" y1="580.00" x2="347.21" y2="580.00" stroke="#1e6e24" stroke-width="0.9" />
<circle cx="344.81" cy="580.00" r="1.5" fill="#111"/>
<circle cx="341.51" cy="581.00" r="1.5" fill="#111"/>
<circle cx="348.11" cy="583.00" r="1.5" fill="#111"/>
<rect x="351.98" y="558.60" width="10.50" height="104.30" fill="#d62728" />
<line x1="357.23" y1="553.93" x2="357.23" y2="563.27" stroke="#9a1a1a" stroke-width="0.9" />
<line x1="354.83" y1="553.93" x2="359.63" y2="553.93" stroke="#9a1a1a" stroke-width="0.9" />
<circle cx="357.23" cy="552.60" r="1.5" fill="#111"/>
<circle cx="357.23" cy="557.60" r="1.5" fill="#111"/>
<circle cx="357.23" cy="573.60" r="1.5" fill="#111"/>
<text x="143.30" y="605.54" font-size="11.5" fill="#111" text-anchor="middle" font-weight="bold" >***</text>
<text x="155.80" y="612.14" font-size="11.5" fill="#111" text-anchor="middle" font-weight="bold" >***</text>
<text x="165.30" y="605.54" font-size="11.5" fill="#111" text-anchor="middle" font-weight="bold" >***</text>
<text x="178.50" y="596.24" font-size="11.5" fill="#111" text-anchor="middle" font-weight="bold" >***</text>
<text x="192.80" y="598.94" font-size="11.5" fill="#111" text-anchor="middle" font-weight="bold" >**</text>
<text x="224.80" y="591.24" font-size="11.5" fill="#111" text-anchor="middle" font-weight="bold" >***</text>
<text x="237.40" y="596.04" font-size="11.5" fill="#111" text-anchor="middle" font-weight="bold" >**</text>
<text x="249.40" y="584.54" font-size="11.5" fill="#111" text-anchor="middle" font-weight="bold" >***</text>
<text x="261.80" y="575.54" font-size="11.5" fill="#111" text-anchor="middle" font-weight="bold" >**</text>
<text x="307.10" y="604.84" font-size="11.5" fill="#111" text-anchor="middle" font-weight="bold" >***</text>
<text x="320.20" y="592.94" font-size="11.5" fill="#111" text-anchor="middle" font-weight="bold" >**</text>
<text x="332.10" y="579.34" font-size="11.5" fill="#111" text-anchor="middle" font-weight="bold" >***</text>
<text x="345.20" y="571.04" font-size="11.5" fill="#111" text-anchor="middle" font-weight="bold" >***</text>
<line x1="121.60" y1="668.20" x2="198.10" y2="668.20" stroke="#111" stroke-width="1.5" />
<line x1="206.40" y1="668.20" x2="281.30" y2="668.20" stroke="#111" stroke-width="1.5" />
<line x1="290.40" y1="668.20" x2="366.70" y2="668.20" stroke="#111" stroke-width="1.5" />
<text x="161.90" y="682.04" font-size="12.4" fill="#111" text-anchor="middle" font-weight="bold" >24</text>
<text x="245.00" y="682.04" font-size="12.4" fill="#111" text-anchor="middle" font-weight="bold" >48</text>
<text x="328.50" y="682.04" font-size="12.4" fill="#111" text-anchor="middle" font-weight="bold" >72</text>
<text x="252.00" y="695.37" font-size="12.2" fill="#111" text-anchor="middle" font-weight="bold" >Hours post-infection</text>
<text transform="translate(68.90,602.10) rotate(-90)" x="0" y="4.44" font-size="12.4" font-weight="bold" fill="#111" text-anchor="middle">Relative fold change in</text>
<text transform="translate(83.50,602.10) rotate(-90)" x="0" y="4.44" font-size="12.4" font-weight="bold" fill="#111" text-anchor="middle">RdRp RNA levels</text>
<text x="245.40" y="508.63" font-size="14.6" fill="#111" text-anchor="middle" font-weight="bold" >Intracellular RNA</text>
<text x="50.00" y="499.36" font-size="20" fill="#000" text-anchor="start" font-weight="bold" >B</text>
<line x1="479.20" y1="532.50" x2="479.20" y2="662.60" stroke="#111" stroke-width="1.5" />
<line x1="478.50" y1="662.00" x2="728.50" y2="662.00" stroke="#111" stroke-width="1.5" />
<line x1="475.90" y1="662.00" x2="479.20" y2="662.00" stroke="#111" stroke-width="1.3" />
<text x="474.20" y="666.90" font-size="12.0" font-weight="bold" fill="#111" text-anchor="end">10<tspan dx="1.2" font-size="8.8" dy="-4.1">0</tspan></text>
<line x1="475.90" y1="636.10" x2="479.20" y2="636.10" stroke="#111" stroke-width="1.3" />
<text x="474.20" y="641.00" font-size="12.0" font-weight="bold" fill="#111" text-anchor="end">10<tspan dx="1.2" font-size="8.8" dy="-4.1">1</tspan></text>
<line x1="475.90" y1="610.20" x2="479.20" y2="610.20" stroke="#111" stroke-width="1.3" />
<text x="474.20" y="615.10" font-size="12.0" font-weight="bold" fill="#111" text-anchor="end">10<tspan dx="1.2" font-size="8.8" dy="-4.1">2</tspan></text>
<line x1="475.90" y1="584.30" x2="479.20" y2="584.30" stroke="#111" stroke-width="1.3" />
<text x="474.20" y="589.20" font-size="12.0" font-weight="bold" fill="#111" text-anchor="end">10<tspan dx="1.2" font-size="8.8" dy="-4.1">3</tspan></text>
<line x1="475.90" y1="558.40" x2="479.20" y2="558.40" stroke="#111" stroke-width="1.3" />
<text x="474.20" y="563.30" font-size="12.0" font-weight="bold" fill="#111" text-anchor="end">10<tspan dx="1.2" font-size="8.8" dy="-4.1">4</tspan></text>
<line x1="475.90" y1="532.50" x2="479.20" y2="532.50" stroke="#111" stroke-width="1.3" />
<text x="474.20" y="537.40" font-size="12.0" font-weight="bold" fill="#111" text-anchor="end">10<tspan dx="1.2" font-size="8.8" dy="-4.1">5</tspan></text>
<circle cx="487.30" cy="660.80" r="1.5" fill="#111"/>
<circle cx="491.00" cy="660.80" r="1.5" fill="#111"/>
<circle cx="494.70" cy="660.80" r="1.5" fill="#111"/>
<rect x="498.50" y="617.20" width="10.30" height="44.80" fill="#1f77b4" />
<line x1="503.65" y1="616.20" x2="503.65" y2="618.20" stroke="#1b3f8a" stroke-width="0.9" />
<line x1="501.25" y1="616.20" x2="506.05" y2="616.20" stroke="#1b3f8a" stroke-width="0.9" />
<circle cx="503.65" cy="616.20" r="1.5" fill="#111"/>
<circle cx="500.35" cy="617.20" r="1.5" fill="#111"/>
<circle cx="506.95" cy="617.20" r="1.5" fill="#111"/>
<rect x="511.03" y="604.30" width="10.30" height="57.70" fill="#ff7f0e" />
<line x1="516.18" y1="603.30" x2="516.18" y2="605.30" stroke="#b35a10" stroke-width="0.9" />
<line x1="513.78" y1="603.30" x2="518.58" y2="603.30" stroke="#b35a10" stroke-width="0.9" />
<circle cx="516.18" cy="603.30" r="1.5" fill="#111"/>
<circle cx="512.88" cy="604.30" r="1.5" fill="#111"/>
<circle cx="519.48" cy="604.30" r="1.5" fill="#111"/>
<rect x="523.56" y="592.20" width="10.30" height="69.80" fill="#9467bd" />
<line x1="528.71" y1="591.09" x2="528.71" y2="593.31" stroke="#6a3d9a" stroke-width="0.9" />
<line x1="526.31" y1="591.09" x2="531.11" y2="591.09" stroke="#6a3d9a" stroke-width="0.9" />
<circle cx="528.71" cy="588.20" r="1.5" fill="#111"/>
<circle cx="526.81" cy="592.20" r="1.5" fill="#111"/>
<circle cx="530.61" cy="593.20" r="1.5" fill="#111"/>
<rect x="536.09" y="590.30" width="10.30" height="71.70" fill="#2ca02c" />
<line x1="541.24" y1="589.30" x2="541.24" y2="591.30" stroke="#1e6e24" stroke-width="0.9" />
<line x1="538.84" y1="589.30" x2="543.64" y2="589.30" stroke="#1e6e24" stroke-width="0.9" />
<circle cx="541.24" cy="589.30" r="1.5" fill="#111"/>
<circle cx="537.94" cy="590.30" r="1.5" fill="#111"/>
<circle cx="544.54" cy="590.30" r="1.5" fill="#111"/>
<rect x="548.62" y="592.70" width="10.30" height="69.30" fill="#d62728" />
<line x1="553.77" y1="591.37" x2="553.77" y2="594.03" stroke="#9a1a1a" stroke-width="0.9" />
<line x1="551.37" y1="591.37" x2="556.17" y2="591.37" stroke="#9a1a1a" stroke-width="0.9" />
<circle cx="553.77" cy="588.70" r="1.5" fill="#111"/>
<circle cx="551.87" cy="592.70" r="1.5" fill="#111"/>
<circle cx="555.67" cy="594.70" r="1.5" fill="#111"/>
<circle cx="570.30" cy="660.80" r="1.5" fill="#111"/>
<circle cx="573.75" cy="660.80" r="1.5" fill="#111"/>
<circle cx="577.20" cy="660.80" r="1.5" fill="#111"/>
<rect x="581.20" y="590.00" width="10.30" height="72.00" fill="#1f77b4" />
<line x1="586.35" y1="587.64" x2="586.35" y2="592.36" stroke="#1b3f8a" stroke-width="0.9" />
<line x1="583.95" y1="587.64" x2="588.75" y2="587.64" stroke="#1b3f8a" stroke-width="0.9" />
<circle cx="586.35" cy="586.40" r="1.5" fill="#111"/>
<circle cx="586.35" cy="590.00" r="1.5" fill="#111"/>
<circle cx="586.35" cy="597.00" r="1.5" fill="#111"/>
<rect x="593.73" y="587.00" width="10.30" height="75.00" fill="#ff7f0e" />
<line x1="598.88" y1="586.00" x2="598.88" y2="588.00" stroke="#b35a10" stroke-width="0.9" />
<line x1="596.48" y1="586.00" x2="601.28" y2="586.00" stroke="#b35a10" stroke-width="0.9" />
<circle cx="598.88" cy="587.00" r="1.5" fill="#111"/>
<circle cx="595.58" cy="587.00" r="1.5" fill="#111"/>
<circle cx="602.18" cy="587.00" r="1.5" fill="#111"/>
<rect x="606.26" y="577.70" width="10.30" height="84.30" fill="#9467bd" />
<line x1="611.41" y1="576.70" x2="611.41" y2="578.70" stroke="#6a3d9a" stroke-width="0.9" />
<line x1="609.01" y1="576.70" x2="613.81" y2="576.70" stroke="#6a3d9a" stroke-width="0.9" />
<circle cx="611.41" cy="576.70" r="1.5" fill="#111"/>
<circle cx="608.11" cy="577.70" r="1.5" fill="#111"/>
<circle cx="614.71" cy="577.70" r="1.5" fill="#111"/>
<rect x="618.79" y="568.10" width="10.30" height="93.90" fill="#2ca02c" />
<line x1="623.94" y1="567.10" x2="623.94" y2="569.10" stroke="#1e6e24" stroke-width="0.9" />
<line x1="621.54" y1="567.10" x2="626.34" y2="567.10" stroke="#1e6e24" stroke-width="0.9" />
<circle cx="623.94" cy="565.10" r="1.5" fill="#111"/>
<circle cx="622.04" cy="568.10" r="1.5" fill="#111"/>
<circle cx="625.84" cy="568.10" r="1.5" fill="#111"/>
<rect x="631.32" y="566.70" width="10.30" height="95.30" fill="#d62728" />
<line x1="636.47" y1="565.70" x2="636.47" y2="567.70" stroke="#9a1a1a" stroke-width="0.9" />
<line x1="634.07" y1="565.70" x2="638.87" y2="565.70" stroke="#9a1a1a" stroke-width="0.9" />
<circle cx="636.47" cy="565.70" r="1.5" fill="#111"/>
<circle cx="633.17" cy="566.70" r="1.5" fill="#111"/>
<circle cx="639.77" cy="566.70" r="1.5" fill="#111"/>
<circle cx="653.80" cy="660.80" r="1.5" fill="#111"/>
<circle cx="657.25" cy="660.80" r="1.5" fill="#111"/>
<circle cx="660.70" cy="660.80" r="1.5" fill="#111"/>
<rect x="664.70" y="591.30" width="10.30" height="70.70" fill="#1f77b4" />
<line x1="669.85" y1="589.97" x2="669.85" y2="592.63" stroke="#1b3f8a" stroke-width="0.9" />
<line x1="667.45" y1="589.97" x2="672.25" y2="589.97" stroke="#1b3f8a" stroke-width="0.9" />
<circle cx="667.95" cy="589.30" r="1.5" fill="#111"/>
<circle cx="671.75" cy="591.30" r="1.5" fill="#111"/>
<circle cx="669.85" cy="595.30" r="1.5" fill="#111"/>
<rect x="677.23" y="592.50" width="10.30" height="69.50" fill="#ff7f0e" />
<line x1="682.38" y1="590.94" x2="682.38" y2="594.06" stroke="#b35a10" stroke-width="0.9" />
<line x1="679.98" y1="590.94" x2="684.78" y2="590.94" stroke="#b35a10" stroke-width="0.9" />
<circle cx="680.48" cy="590.50" r="1.5" fill="#111"/>
<circle cx="684.28" cy="592.50" r="1.5" fill="#111"/>
<circle cx="682.38" cy="597.50" r="1.5" fill="#111"/>
<rect x="689.76" y="567.40" width="10.30" height="94.60" fill="#9467bd" />
<line x1="694.91" y1="566.29" x2="694.91" y2="568.51" stroke="#6a3d9a" stroke-width="0.9" />
<line x1="692.51" y1="566.29" x2="697.31" y2="566.29" stroke="#6a3d9a" stroke-width="0.9" />
<circle cx="694.91" cy="563.40" r="1.5" fill="#111"/>
<circle cx="693.01" cy="567.40" r="1.5" fill="#111"/>
<circle cx="696.81" cy="568.40" r="1.5" fill="#111"/>
<rect x="702.29" y="561.50" width="10.30" height="100.50" fill="#2ca02c" />
<line x1="707.44" y1="560.50" x2="707.44" y2="562.50" stroke="#1e6e24" stroke-width="0.9" />
<line x1="705.04" y1="560.50" x2="709.84" y2="560.50" stroke="#1e6e24" stroke-width="0.9" />
<circle cx="707.44" cy="558.50" r="1.5" fill="#111"/>
<circle cx="705.54" cy="561.50" r="1.5" fill="#111"/>
<circle cx="709.34" cy="561.50" r="1.5" fill="#111"/>
<rect x="714.82" y="560.30" width="10.30" height="101.70" fill="#d62728" />
<line x1="719.97" y1="559.30" x2="719.97" y2="561.30" stroke="#9a1a1a" stroke-width="0.9" />
<line x1="717.57" y1="559.30" x2="722.37" y2="559.30" stroke="#9a1a1a" stroke-width="0.9" />
<circle cx="719.97" cy="557.30" r="1.5" fill="#111"/>
<circle cx="718.07" cy="560.30" r="1.5" fill="#111"/>
<circle cx="721.87" cy="560.30" r="1.5" fill="#111"/>
<text x="503.30" y="607.44" font-size="11.5" fill="#111" text-anchor="middle" font-weight="bold" >***</text>
<text x="515.90" y="597.44" font-size="11.5" fill="#111" text-anchor="middle" font-weight="bold" >***</text>
<text x="529.50" y="585.04" font-size="11.5" fill="#111" text-anchor="middle" font-weight="bold" >**</text>
<text x="541.00" y="580.04" font-size="11.5" fill="#111" text-anchor="middle" font-weight="bold" >***</text>
<text x="555.20" y="585.04" font-size="11.5" fill="#111" text-anchor="middle" font-weight="bold" >**</text>
<text x="586.00" y="579.14" font-size="11.5" fill="#111" text-anchor="middle" font-weight="bold" >*</text>
<text x="597.90" y="576.24" font-size="11.5" fill="#111" text-anchor="middle" font-weight="bold" >***</text>
<text x="611.50" y="568.34" font-size="11.5" fill="#111" text-anchor="middle" font-weight="bold" >***</text>
<text x="624.60" y="559.54" font-size="11.5" fill="#111" text-anchor="middle" font-weight="bold" >**</text>
<text x="637.70" y="555.54" font-size="11.5" fill="#111" text-anchor="middle" font-weight="bold" >***</text>
<text x="670.60" y="580.34" font-size="11.5" fill="#111" text-anchor="middle" font-weight="bold" >*</text>
<text x="682.10" y="585.34" font-size="11.5" fill="#111" text-anchor="middle" font-weight="bold" >***</text>
<text x="695.00" y="556.44" font-size="11.5" fill="#111" text-anchor="middle" font-weight="bold" >*</text>
<text x="707.60" y="553.64" font-size="11.5" fill="#111" text-anchor="middle" font-weight="bold" >**</text>
<text x="720.20" y="550.04" font-size="11.5" fill="#111" text-anchor="middle" font-weight="bold" >*</text>
<line x1="482.50" y1="667.20" x2="560.50" y2="667.20" stroke="#111" stroke-width="1.5" />
<line x1="567.00" y1="667.20" x2="645.60" y2="667.20" stroke="#111" stroke-width="1.5" />
<line x1="651.60" y1="667.20" x2="729.00" y2="667.20" stroke="#111" stroke-width="1.5" />
<text x="520.70" y="681.94" font-size="12.4" fill="#111" text-anchor="middle" font-weight="bold" >24</text>
<text x="605.00" y="681.94" font-size="12.4" fill="#111" text-anchor="middle" font-weight="bold" >48</text>
<text x="690.40" y="681.94" font-size="12.4" fill="#111" text-anchor="middle" font-weight="bold" >72</text>
<text x="612.00" y="695.37" font-size="12.2" fill="#111" text-anchor="middle" font-weight="bold" >Hours post-infection</text>
<text transform="translate(428.80,602.10) rotate(-90)" x="0" y="4.44" font-size="12.4" font-weight="bold" fill="#111" text-anchor="middle">Relative fold change in</text>
<text transform="translate(443.40,602.10) rotate(-90)" x="0" y="4.44" font-size="12.4" font-weight="bold" fill="#111" text-anchor="middle">RdRp RNA levels</text>
<text x="611.00" y="508.63" font-size="14.6" fill="#111" text-anchor="middle" font-weight="bold" >Extracellular RNA</text>
<text x="391.90" y="499.56" font-size="20" fill="#000" text-anchor="start" font-weight="bold" >C</text>
<line x1="284.20" y1="724.40" x2="284.20" y2="861.40" stroke="#111" stroke-width="1.5" />
<line x1="283.50" y1="860.80" x2="547.00" y2="860.80" stroke="#111" stroke-width="1.5" />
<line x1="280.90" y1="860.80" x2="284.20" y2="860.80" stroke="#111" stroke-width="1.3" />
<text x="279.20" y="865.70" font-size="12.0" font-weight="bold" fill="#111" text-anchor="end">10<tspan dx="1.2" font-size="8.8" dy="-4.1">0</tspan></text>
<line x1="280.90" y1="833.52" x2="284.20" y2="833.52" stroke="#111" stroke-width="1.3" />
<text x="279.20" y="838.42" font-size="12.0" font-weight="bold" fill="#111" text-anchor="end">10<tspan dx="1.2" font-size="8.8" dy="-4.1">2</tspan></text>
<line x1="280.90" y1="806.24" x2="284.20" y2="806.24" stroke="#111" stroke-width="1.3" />
<text x="279.20" y="811.14" font-size="12.0" font-weight="bold" fill="#111" text-anchor="end">10<tspan dx="1.2" font-size="8.8" dy="-4.1">4</tspan></text>
<line x1="280.90" y1="778.96" x2="284.20" y2="778.96" stroke="#111" stroke-width="1.3" />
<text x="279.20" y="783.86" font-size="12.0" font-weight="bold" fill="#111" text-anchor="end">10<tspan dx="1.2" font-size="8.8" dy="-4.1">6</tspan></text>
<line x1="280.90" y1="751.68" x2="284.20" y2="751.68" stroke="#111" stroke-width="1.3" />
<text x="279.20" y="756.58" font-size="12.0" font-weight="bold" fill="#111" text-anchor="end">10<tspan dx="1.2" font-size="8.8" dy="-4.1">8</tspan></text>
<line x1="280.90" y1="724.40" x2="284.20" y2="724.40" stroke="#111" stroke-width="1.3" />
<text x="279.20" y="729.30" font-size="12.0" font-weight="bold" fill="#111" text-anchor="end">10<tspan dx="1.2" font-size="8.8" dy="-4.1">10</tspan></text>
<circle cx="291.30" cy="859.60" r="1.5" fill="#111"/>
<circle cx="295.00" cy="859.60" r="1.5" fill="#111"/>
<circle cx="298.70" cy="859.60" r="1.5" fill="#111"/>
<rect x="302.80" y="807.30" width="10.60" height="53.50" fill="#1f77b4" />
<line x1="308.10" y1="806.30" x2="308.10" y2="808.30" stroke="#1b3f8a" stroke-width="0.9" />
<line x1="305.70" y1="806.30" x2="310.50" y2="806.30" stroke="#1b3f8a" stroke-width="0.9" />
<circle cx="308.10" cy="804.30" r="1.5" fill="#111"/>
<circle cx="306.20" cy="807.30" r="1.5" fill="#111"/>
<circle cx="310.00" cy="807.30" r="1.5" fill="#111"/>
<rect x="315.90" y="764.40" width="10.60" height="96.40" fill="#ff7f0e" />
<line x1="321.20" y1="762.18" x2="321.20" y2="766.62" stroke="#b35a10" stroke-width="0.9" />
<line x1="318.80" y1="762.18" x2="323.60" y2="762.18" stroke="#b35a10" stroke-width="0.9" />
<circle cx="321.20" cy="760.40" r="1.5" fill="#111"/>
<circle cx="321.20" cy="764.40" r="1.5" fill="#111"/>
<circle cx="321.20" cy="770.40" r="1.5" fill="#111"/>
<rect x="329.00" y="762.30" width="10.60" height="98.50" fill="#9467bd" />
<line x1="334.30" y1="761.30" x2="334.30" y2="763.30" stroke="#6a3d9a" stroke-width="0.9" />
<line x1="331.90" y1="761.30" x2="336.70" y2="761.30" stroke="#6a3d9a" stroke-width="0.9" />
<circle cx="334.30" cy="760.30" r="1.5" fill="#111"/>
<circle cx="331.00" cy="762.30" r="1.5" fill="#111"/>
<circle cx="337.60" cy="762.30" r="1.5" fill="#111"/>
<rect x="342.10" y="763.60" width="10.60" height="97.20" fill="#2ca02c" />
<line x1="347.40" y1="762.60" x2="347.40" y2="764.60" stroke="#1e6e24" stroke-width="0.9" />
<line x1="345.00" y1="762.60" x2="349.80" y2="762.60" stroke="#1e6e24" stroke-width="0.9" />
<circle cx="347.40" cy="763.60" r="1.5" fill="#111"/>
<circle cx="344.10" cy="763.60" r="1.5" fill="#111"/>
<circle cx="350.70" cy="763.60" r="1.5" fill="#111"/>
<rect x="355.20" y="791.40" width="10.60" height="69.40" fill="#d62728" />
<line x1="360.50" y1="786.07" x2="360.50" y2="796.73" stroke="#9a1a1a" stroke-width="0.9" />
<line x1="358.10" y1="786.07" x2="362.90" y2="786.07" stroke="#9a1a1a" stroke-width="0.9" />
<circle cx="360.50" cy="787.40" r="1.5" fill="#111"/>
<circle cx="360.50" cy="791.40" r="1.5" fill="#111"/>
<circle cx="360.50" cy="811.40" r="1.5" fill="#111"/>
<circle cx="378.30" cy="859.60" r="1.5" fill="#111"/>
<circle cx="382.00" cy="859.60" r="1.5" fill="#111"/>
<circle cx="385.70" cy="859.60" r="1.5" fill="#111"/>
<rect x="390.40" y="786.90" width="10.60" height="73.90" fill="#1f77b4" />
<line x1="395.70" y1="784.90" x2="395.70" y2="788.90" stroke="#1b3f8a" stroke-width="0.9" />
<line x1="393.30" y1="784.90" x2="398.10" y2="784.90" stroke="#1b3f8a" stroke-width="0.9" />
<circle cx="395.70" cy="781.90" r="1.5" fill="#111"/>
<circle cx="395.70" cy="786.90" r="1.5" fill="#111"/>
<circle cx="395.70" cy="790.90" r="1.5" fill="#111"/>
<rect x="403.50" y="760.40" width="10.60" height="100.40" fill="#ff7f0e" />
<line x1="408.80" y1="759.40" x2="408.80" y2="761.40" stroke="#b35a10" stroke-width="0.9" />
<line x1="406.40" y1="759.40" x2="411.20" y2="759.40" stroke="#b35a10" stroke-width="0.9" />
<circle cx="408.80" cy="758.40" r="1.5" fill="#111"/>
<circle cx="405.50" cy="760.40" r="1.5" fill="#111"/>
<circle cx="412.10" cy="760.40" r="1.5" fill="#111"/>
<rect x="416.60" y="735.00" width="10.60" height="125.80" fill="#9467bd" />
<line x1="421.90" y1="729.89" x2="421.90" y2="740.11" stroke="#6a3d9a" stroke-width="0.9" />
<line x1="419.50" y1="729.89" x2="424.30" y2="729.89" stroke="#6a3d9a" stroke-width="0.9" />
<circle cx="420.00" cy="732.00" r="1.5" fill="#111"/>
<circle cx="423.80" cy="732.00" r="1.5" fill="#111"/>
<circle cx="421.90" cy="755.00" r="1.5" fill="#111"/>
<rect x="429.70" y="744.20" width="10.60" height="116.60" fill="#2ca02c" />
<line x1="435.00" y1="743.20" x2="435.00" y2="745.20" stroke="#1e6e24" stroke-width="0.9" />
<line x1="432.60" y1="743.20" x2="437.40" y2="743.20" stroke="#1e6e24" stroke-width="0.9" />
<circle cx="435.00" cy="740.20" r="1.5" fill="#111"/>
<circle cx="433.10" cy="744.20" r="1.5" fill="#111"/>
<circle cx="436.90" cy="744.20" r="1.5" fill="#111"/>
<rect x="442.80" y="788.70" width="10.60" height="72.10" fill="#d62728" />
<line x1="448.10" y1="787.70" x2="448.10" y2="789.70" stroke="#9a1a1a" stroke-width="0.9" />
<line x1="445.70" y1="787.70" x2="450.50" y2="787.70" stroke="#9a1a1a" stroke-width="0.9" />
<circle cx="448.10" cy="786.70" r="1.5" fill="#111"/>
<circle cx="444.80" cy="788.70" r="1.5" fill="#111"/>
<circle cx="451.40" cy="788.70" r="1.5" fill="#111"/>
<circle cx="466.30" cy="859.60" r="1.5" fill="#111"/>
<circle cx="470.00" cy="859.60" r="1.5" fill="#111"/>
<circle cx="473.70" cy="859.60" r="1.5" fill="#111"/>
<rect x="478.00" y="755.10" width="10.60" height="105.70" fill="#1f77b4" />
<line x1="483.30" y1="754.10" x2="483.30" y2="756.10" stroke="#1b3f8a" stroke-width="0.9" />
<line x1="480.90" y1="754.10" x2="485.70" y2="754.10" stroke="#1b3f8a" stroke-width="0.9" />
<circle cx="483.30" cy="753.10" r="1.5" fill="#111"/>
<circle cx="480.00" cy="755.10" r="1.5" fill="#111"/>
<circle cx="486.60" cy="755.10" r="1.5" fill="#111"/>
<rect x="491.10" y="747.20" width="10.60" height="113.60" fill="#ff7f0e" />
<line x1="496.40" y1="746.20" x2="496.40" y2="748.20" stroke="#b35a10" stroke-width="0.9" />
<line x1="494.00" y1="746.20" x2="498.80" y2="746.20" stroke="#b35a10" stroke-width="0.9" />
<circle cx="496.40" cy="746.20" r="1.5" fill="#111"/>
<circle cx="493.10" cy="747.20" r="1.5" fill="#111"/>
<circle cx="499.70" cy="747.20" r="1.5" fill="#111"/>
<rect x="504.20" y="728.60" width="10.60" height="132.20" fill="#9467bd" />
<line x1="509.50" y1="727.49" x2="509.50" y2="729.71" stroke="#6a3d9a" stroke-width="0.9" />
<line x1="507.10" y1="727.49" x2="511.90" y2="727.49" stroke="#6a3d9a" stroke-width="0.9" />
<circle cx="507.60" cy="726.60" r="1.5" fill="#111"/>
<circle cx="511.40" cy="727.60" r="1.5" fill="#111"/>
<circle cx="509.50" cy="731.60" r="1.5" fill="#111"/>
<rect x="517.30" y="730.50" width="10.60" height="130.30" fill="#2ca02c" />
<line x1="522.60" y1="729.50" x2="522.60" y2="731.50" stroke="#1e6e24" stroke-width="0.9" />
<line x1="520.20" y1="729.50" x2="525.00" y2="729.50" stroke="#1e6e24" stroke-width="0.9" />
<circle cx="522.60" cy="730.50" r="1.5" fill="#111"/>
<circle cx="519.30" cy="730.50" r="1.5" fill="#111"/>
<circle cx="525.90" cy="730.50" r="1.5" fill="#111"/>
<rect x="530.40" y="772.80" width="10.60" height="88.00" fill="#d62728" />
<line x1="535.70" y1="771.80" x2="535.70" y2="773.80" stroke="#9a1a1a" stroke-width="0.9" />
<line x1="533.30" y1="771.80" x2="538.10" y2="771.80" stroke="#9a1a1a" stroke-width="0.9" />
<circle cx="535.70" cy="772.80" r="1.5" fill="#111"/>
<circle cx="532.40" cy="772.80" r="1.5" fill="#111"/>
<circle cx="539.00" cy="772.80" r="1.5" fill="#111"/>
<text x="308.10" y="799.64" font-size="11.5" fill="#111" text-anchor="middle" font-weight="bold" >*</text>
<text x="333.80" y="751.44" font-size="11.5" fill="#111" text-anchor="middle" font-weight="bold" >**</text>
<text x="348.30" y="756.24" font-size="11.5" fill="#111" text-anchor="middle" font-weight="bold" >***</text>
<text x="408.40" y="750.14" font-size="11.5" fill="#111" text-anchor="middle" font-weight="bold" >**</text>
<text x="435.70" y="734.24" font-size="11.5" fill="#111" text-anchor="middle" font-weight="bold" >*</text>
<text x="448.10" y="782.44" font-size="11.5" fill="#111" text-anchor="middle" font-weight="bold" >**</text>
<text x="483.40" y="750.14" font-size="11.5" fill="#111" text-anchor="middle" font-weight="bold" >*</text>
<text x="495.80" y="738.74" font-size="11.5" fill="#111" text-anchor="middle" font-weight="bold" >***</text>
<text x="510.40" y="720.24" font-size="11.5" fill="#111" text-anchor="middle" font-weight="bold" >*</text>
<text x="525.00" y="725.44" font-size="11.5" fill="#111" text-anchor="middle" font-weight="bold" >***</text>
<text x="537.40" y="766.04" font-size="11.5" fill="#111" text-anchor="middle" font-weight="bold" >***</text>
<line x1="286.00" y1="866.00" x2="368.20" y2="866.00" stroke="#111" stroke-width="1.5" />
<line x1="376.60" y1="866.00" x2="458.20" y2="866.00" stroke="#111" stroke-width="1.5" />
<line x1="464.60" y1="866.00" x2="546.20" y2="866.00" stroke="#111" stroke-width="1.5" />
<text x="326.60" y="880.44" font-size="12.4" fill="#111" text-anchor="middle" font-weight="bold" >24</text>
<text x="415.00" y="880.44" font-size="12.4" fill="#111" text-anchor="middle" font-weight="bold" >48</text>
<text x="505.10" y="880.44" font-size="12.4" fill="#111" text-anchor="middle" font-weight="bold" >72</text>
<text x="422.50" y="894.85" font-size="13.0" fill="#111" text-anchor="middle" font-weight="bold" >Hours post-infection</text>
<text transform="translate(247.20,788.70) rotate(-90)" x="0" y="4.69" font-size="13.1" font-weight="bold" fill="#111" text-anchor="middle">PFU/mL</text>
<text x="218.00" y="736.36" font-size="20" fill="#000" text-anchor="start" font-weight="bold" >D</text>
<rect x="187.90" y="912.90" width="18.70" height="9.90" fill="#111" />
<text x="213.70" y="922.83" font-size="13.5" fill="#111" text-anchor="start" font-weight="bold" >Mock</text>
<rect x="259.40" y="912.90" width="17.90" height="9.90" fill="#1f77b4" />
<text x="285.20" y="922.83" font-size="13.5" fill="#111" text-anchor="start" font-weight="bold" >B.6</text>
<rect x="321.80" y="912.90" width="18.20" height="9.90" fill="#ff7f0e" />
<text x="348.80" y="922.83" font-size="13.5" fill="#111" text-anchor="start" font-weight="bold" >B.1.1.8</text>
<rect x="406.40" y="912.90" width="17.90" height="9.90" fill="#9467bd" />
<text x="432.00" y="922.83" font-size="13.5" fill="#111" text-anchor="start" font-weight="bold" >B.1.36.29</text>
<rect x="502.50" y="912.90" width="17.90" height="9.90" fill="#2ca02c" />
<text x="529.10" y="922.83" font-size="13.5" fill="#111" text-anchor="start" font-weight="bold" >Alpha</text>
<rect x="576.80" y="912.90" width="17.90" height="9.90" fill="#d62728" />
<text x="603.40" y="922.83" font-size="13.5" fill="#111" text-anchor="start" font-weight="bold" >Delta</text>
<text x="25.50" y="955.88" font-size="22" fill="#000" text-anchor="start" font-weight="bold" stroke="#000" stroke-width="0.6">E</text>
<text x="208.60" y="965.05" font-size="13.0" fill="#111" text-anchor="middle" font-weight="bold" >24 hpi</text>
<line x1="116.00" y1="971.00" x2="293.70" y2="971.00" stroke="#111" stroke-width="1.4" />
<text x="400.70" y="965.05" font-size="13.0" fill="#111" text-anchor="middle" font-weight="bold" >48 hpi</text>
<line x1="311.60" y1="971.00" x2="492.00" y2="971.00" stroke="#111" stroke-width="1.4" />
<text x="619.90" y="964.25" font-size="13.0" fill="#111" text-anchor="middle" font-weight="bold" >72 hpi</text>
<line x1="528.60" y1="971.00" x2="705.90" y2="971.00" stroke="#111" stroke-width="1.4" />
<text x="725.90" y="1035.07" font-size="12.5" fill="#111" text-anchor="start" font-weight="bold" >kDa</text>
<text transform="translate(110.90,1033.60) rotate(-65)" x="0" y="0" font-size="12.3" fill="#111" text-anchor="start" font-weight="bold">Mock</text>
<text transform="translate(144.80,1033.60) rotate(-65)" x="0" y="0" font-size="12.3" fill="#111" text-anchor="start" font-weight="bold">B.6</text>
<text transform="translate(176.80,1033.60) rotate(-65)" x="0" y="0" font-size="12.3" fill="#111" text-anchor="start" font-weight="bold">B.1.1.8</text>
<text transform="translate(211.00,1033.60) rotate(-65)" x="0" y="0" font-size="12.3" fill="#111" text-anchor="start" font-weight="bold">B.1.36.29</text>
<text transform="translate(243.50,1033.60) rotate(-65)" x="0" y="0" font-size="12.3" fill="#111" text-anchor="start" font-weight="bold">Alpha</text>
<text transform="translate(276.90,1033.60) rotate(-65)" x="0" y="0" font-size="12.3" fill="#111" text-anchor="start" font-weight="bold">Delta</text>
<text transform="translate(306.10,1033.60) rotate(-65)" x="0" y="0" font-size="12.3" fill="#111" text-anchor="start" font-weight="bold">Mock</text>
<text transform="translate(340.00,1033.60) rotate(-65)" x="0" y="0" font-size="12.3" fill="#111" text-anchor="start" font-weight="bold">B.6</text>
<text transform="translate(372.00,1033.60) rotate(-65)" x="0" y="0" font-size="12.3" fill="#111" text-anchor="start" font-weight="bold">B.1.1.8</text>
<text transform="translate(402.60,1033.60) rotate(-65)" x="0" y="0" font-size="12.3" fill="#111" text-anchor="start" font-weight="bold">B.1.36.29</text>
<text transform="translate(436.00,1033.60) rotate(-65)" x="0" y="0" font-size="12.3" fill="#111" text-anchor="start" font-weight="bold">Alpha</text>
<text transform="translate(468.50,1033.60) rotate(-65)" x="0" y="0" font-size="12.3" fill="#111" text-anchor="start" font-weight="bold">Delta</text>
<text transform="translate(523.60,1033.60) rotate(-65)" x="0" y="0" font-size="12.3" fill="#111" text-anchor="start" font-weight="bold">Mock</text>
<text transform="translate(559.70,1033.60) rotate(-65)" x="0" y="0" font-size="12.3" fill="#111" text-anchor="start" font-weight="bold">B.6</text>
<text transform="translate(591.20,1033.60) rotate(-65)" x="0" y="0" font-size="12.3" fill="#111" text-anchor="start" font-weight="bold">B.1.1.8</text>
<text transform="translate(622.30,1033.60) rotate(-65)" x="0" y="0" font-size="12.3" fill="#111" text-anchor="start" font-weight="bold">B.1.36.29</text>
<text transform="translate(654.30,1033.60) rotate(-65)" x="0" y="0" font-size="12.3" fill="#111" text-anchor="start" font-weight="bold">Alpha</text>
<text transform="translate(687.70,1033.60) rotate(-65)" x="0" y="0" font-size="12.3" fill="#111" text-anchor="start" font-weight="bold">Delta</text>
<defs><filter id="bl1" x="-50%" y="-100%" width="200%" height="300%"><feGaussianBlur stdDeviation="1.6"/></filter><filter id="bl2" x="-50%" y="-100%" width="200%" height="300%"><feGaussianBlur stdDeviation="2.6"/></filter><filter id="bl3" x="-50%" y="-100%" width="200%" height="300%"><feGaussianBlur stdDeviation="1.0"/></filter><clipPath id="cpL1"><rect x="92.2" y="1045.6" width="404.9" height="32.5"/></clipPath><clipPath id="cpL2"><rect x="92.2" y="1081.2" width="404.9" height="31.9"/></clipPath><clipPath id="cpL3"><rect x="92.2" y="1117.2" width="404.9" height="32"/></clipPath><clipPath id="cpR1"><rect x="501.3" y="1045.6" width="203" height="32.5"/></clipPath><clipPath id="cpR2"><rect x="501.3" y="1081.2" width="203" height="31.9"/></clipPath><clipPath id="cpR3"><rect x="501.3" y="1117.2" width="203" height="32"/></clipPath></defs>
<rect x="92.20" y="1045.60" width="404.90" height="32.50" fill="#f9f9f9" />
<rect x="92.20" y="1081.20" width="404.90" height="31.80" fill="#f9f9f9" />
<rect x="92.20" y="1117.20" width="404.90" height="32.00" fill="#f9f9f9" />
<rect x="501.30" y="1045.60" width="203.00" height="32.50" fill="#f9f9f9" />
<rect x="501.30" y="1081.20" width="203.00" height="31.80" fill="#f9f9f9" />
<rect x="501.30" y="1117.20" width="203.00" height="32.00" fill="#f9f9f9" />
<defs><filter id="f18_13" x="-60%" y="-200%" width="220%" height="500%"><feGaussianBlur stdDeviation="1.8 1.3"/></filter></defs>
<g clip-path="url(#cpL1)"><rect x="101.40" y="1058.75" width="30.00" height="2.50" rx="9.00" ry="1.25" fill="#000" fill-opacity="0.22" filter="url(#f18_13)"/></g>
<g clip-path="url(#cpL1)"><rect x="103.40" y="1072.75" width="26.00" height="1.50" rx="7.80" ry="0.75" fill="#000" fill-opacity="0.06" filter="url(#f18_13)"/></g>
<g clip-path="url(#cpL1)"><rect x="144.40" y="1059.50" width="9.00" height="3.00" rx="2.70" ry="1.50" fill="#000" fill-opacity="0.25" filter="url(#f18_13)"/></g>
<g clip-path="url(#cpL1)"><rect x="135.90" y="1061.00" width="26.00" height="2.00" rx="7.80" ry="1.00" fill="#000" fill-opacity="0.05" filter="url(#f18_13)"/></g>
<g clip-path="url(#cpL1)"><rect x="165.70" y="1056.25" width="28.00" height="2.50" rx="8.40" ry="1.25" fill="#000" fill-opacity="0.14" filter="url(#f18_13)"/></g>
<g clip-path="url(#cpL1)"><rect x="165.70" y="1062.80" width="28.00" height="4.00" rx="8.40" ry="2.00" fill="#000" fill-opacity="0.4" filter="url(#f18_13)"/></g>
<g clip-path="url(#cpL1)"><rect x="197.70" y="1056.75" width="28.00" height="2.50" rx="8.40" ry="1.25" fill="#000" fill-opacity="0.1" filter="url(#f18_13)"/></g>
<g clip-path="url(#cpL1)"><rect x="197.70" y="1062.80" width="28.00" height="4.00" rx="8.40" ry="2.00" fill="#000" fill-opacity="0.36" filter="url(#f18_13)"/></g>
<g clip-path="url(#cpL1)"><rect x="230.80" y="1056.75" width="30.00" height="2.50" rx="9.00" ry="1.25" fill="#000" fill-opacity="0.12" filter="url(#f18_13)"/></g>
<g clip-path="url(#cpL1)"><rect x="230.80" y="1062.30" width="30.00" height="5.00" rx="9.00" ry="2.50" fill="#000" fill-opacity="0.9" filter="url(#f18_13)"/></g>
<g clip-path="url(#cpL1)"><rect x="261.40" y="1053.40" width="30.00" height="5.00" rx="9.00" ry="2.50" fill="#000" fill-opacity="0.7" filter="url(#f18_13)"/></g>
<g clip-path="url(#cpL1)"><rect x="261.40" y="1062.75" width="30.00" height="3.50" rx="9.00" ry="1.75" fill="#000" fill-opacity="0.28" filter="url(#f18_13)"/></g>
<g clip-path="url(#cpL1)"><rect x="293.80" y="1059.25" width="28.00" height="2.50" rx="8.40" ry="1.25" fill="#000" fill-opacity="0.12" filter="url(#f18_13)"/></g>
<g clip-path="url(#cpL1)"><rect x="326.00" y="1054.20" width="29.00" height="3.00" rx="8.70" ry="1.50" fill="#000" fill-opacity="0.22" filter="url(#f18_13)"/></g>
<g clip-path="url(#cpL1)"><rect x="326.00" y="1062.70" width="29.00" height="3.00" rx="8.70" ry="1.50" fill="#000" fill-opacity="0.17" filter="url(#f18_13)"/></g>
<g clip-path="url(#cpL1)"><rect x="327.50" y="1074.60" width="26.00" height="2.00" rx="7.80" ry="1.00" fill="#000" fill-opacity="0.12" filter="url(#f18_13)"/></g>
<g clip-path="url(#cpL1)"><rect x="356.90" y="1065.00" width="30.00" height="4.00" rx="9.00" ry="2.00" fill="#000" fill-opacity="0.42" filter="url(#f18_13)"/></g>
<g clip-path="url(#cpL1)"><rect x="357.90" y="1074.35" width="28.00" height="2.50" rx="8.40" ry="1.25" fill="#000" fill-opacity="0.28" filter="url(#f18_13)"/></g>
<g clip-path="url(#cpL1)"><rect x="389.90" y="1063.75" width="31.00" height="6.50" rx="9.30" ry="3.25" fill="#000" fill-opacity="1.0" filter="url(#f18_13)"/></g>
<g clip-path="url(#cpL1)"><rect x="391.40" y="1057.50" width="28.00" height="3.00" rx="8.40" ry="1.50" fill="#000" fill-opacity="0.06" filter="url(#f18_13)"/></g>
<g clip-path="url(#cpL1)"><rect x="424.40" y="1056.50" width="30.00" height="4.00" rx="9.00" ry="2.00" fill="#000" fill-opacity="0.85" filter="url(#f18_13)"/></g>
<g clip-path="url(#cpL1)"><rect x="423.90" y="1064.80" width="31.00" height="7.00" rx="9.30" ry="3.50" fill="#000" fill-opacity="1.0" filter="url(#f18_13)"/></g>
<g clip-path="url(#cpL1)"><rect x="458.30" y="1058.05" width="32.00" height="3.50" rx="9.60" ry="1.75" fill="#000" fill-opacity="0.8" filter="url(#f18_13)"/></g>
<g clip-path="url(#cpL1)"><rect x="460.30" y="1066.50" width="28.00" height="3.00" rx="8.40" ry="1.50" fill="#000" fill-opacity="0.3" filter="url(#f18_13)"/></g>
<g clip-path="url(#cpL2)"><rect x="100.40" y="1096.75" width="32.00" height="4.50" rx="9.60" ry="2.25" fill="#000" fill-opacity="0.14" filter="url(#f18_13)"/></g>
<g clip-path="url(#cpL2)"><rect x="133.40" y="1099.00" width="31.00" height="5.00" rx="9.30" ry="2.50" fill="#000" fill-opacity="0.26" filter="url(#f18_13)"/></g>
<g clip-path="url(#cpL2)"><rect x="164.20" y="1096.75" width="31.00" height="5.50" rx="9.30" ry="2.75" fill="#000" fill-opacity="0.42" filter="url(#f18_13)"/></g>
<g clip-path="url(#cpL2)"><rect x="196.70" y="1094.00" width="30.00" height="6.00" rx="9.00" ry="3.00" fill="#000" fill-opacity="0.34" filter="url(#f18_13)"/></g>
<g clip-path="url(#cpL2)"><rect x="228.80" y="1089.75" width="34.00" height="8.50" rx="10.20" ry="4.25" fill="#000" fill-opacity="0.32" filter="url(#f18_13)"/></g>
<g clip-path="url(#cpL2)"><rect x="229.30" y="1095.75" width="33.00" height="7.50" rx="9.90" ry="3.75" fill="#000" fill-opacity="0.95" filter="url(#f18_13)"/></g>
<g clip-path="url(#cpL2)"><rect x="261.40" y="1097.75" width="30.00" height="5.50" rx="9.00" ry="2.75" fill="#000" fill-opacity="0.85" filter="url(#f18_13)"/></g>
<g clip-path="url(#cpL2)"><rect x="293.30" y="1098.15" width="29.00" height="4.50" rx="8.70" ry="2.25" fill="#000" fill-opacity="0.22" filter="url(#f18_13)"/></g>
<g clip-path="url(#cpL2)"><rect x="325.50" y="1093.50" width="30.00" height="4.00" rx="9.00" ry="2.00" fill="#000" fill-opacity="0.24" filter="url(#f18_13)"/></g>
<g clip-path="url(#cpL2)"><rect x="325.50" y="1099.20" width="30.00" height="4.00" rx="9.00" ry="2.00" fill="#000" fill-opacity="0.28" filter="url(#f18_13)"/></g>
<g clip-path="url(#cpL2)"><rect x="355.40" y="1097.05" width="33.00" height="5.50" rx="9.90" ry="2.75" fill="#000" fill-opacity="0.6" filter="url(#f18_13)"/></g>
<g clip-path="url(#cpL2)"><rect x="388.40" y="1095.15" width="34.00" height="6.50" rx="10.20" ry="3.25" fill="#000" fill-opacity="0.8" filter="url(#f18_13)"/></g>
<g clip-path="url(#cpL2)"><rect x="422.40" y="1092.75" width="34.00" height="13.50" rx="10.20" ry="6.75" fill="#000" fill-opacity="1.0" filter="url(#f18_13)"/></g>
<g clip-path="url(#cpL2)"><rect x="423.40" y="1088.25" width="32.00" height="9.50" rx="9.60" ry="4.75" fill="#000" fill-opacity="0.6" filter="url(#f18_13)"/></g>
<g clip-path="url(#cpL2)"><rect x="421.40" y="1100.75" width="36.00" height="6.50" rx="10.80" ry="3.25" fill="#000" fill-opacity="0.5" filter="url(#f18_13)"/></g>
<g clip-path="url(#cpL2)"><rect x="458.30" y="1098.00" width="32.00" height="5.00" rx="9.60" ry="2.50" fill="#000" fill-opacity="0.42" filter="url(#f18_13)"/></g>
<defs><filter id="f12_8" x="-60%" y="-200%" width="220%" height="500%"><feGaussianBlur stdDeviation="1.2 0.8"/></filter></defs>
<g clip-path="url(#cpL3)"><ellipse cx="116.40" cy="1132.30" rx="19.00" ry="5.50" fill="#000" fill-opacity="1.0" filter="url(#f12_8)"/></g>
<g clip-path="url(#cpL3)"><ellipse cx="148.90" cy="1136.40" rx="16.00" ry="4.50" fill="#000" fill-opacity="1.0" filter="url(#f12_8)"/></g>
<g clip-path="url(#cpL3)"><ellipse cx="179.70" cy="1132.80" rx="16.50" ry="5.00" fill="#000" fill-opacity="1.0" filter="url(#f12_8)" transform="rotate(-4 179.70 1132.80)"/></g>
<g clip-path="url(#cpL3)"><ellipse cx="211.70" cy="1131.70" rx="15.00" ry="4.00" fill="#000" fill-opacity="1.0" filter="url(#f12_8)"/></g>
<g clip-path="url(#cpL3)"><ellipse cx="245.80" cy="1132.60" rx="17.00" ry="4.00" fill="#000" fill-opacity="1.0" filter="url(#f12_8)"/></g>
<g clip-path="url(#cpL3)"><ellipse cx="276.40" cy="1135.60" rx="14.50" ry="4.00" fill="#000" fill-opacity="1.0" filter="url(#f12_8)"/></g>
<g clip-path="url(#cpL3)"><ellipse cx="307.80" cy="1132.50" rx="15.50" ry="4.00" fill="#000" fill-opacity="1.0" filter="url(#f12_8)"/></g>
<g clip-path="url(#cpL3)"><ellipse cx="340.50" cy="1136.20" rx="15.50" ry="4.25" fill="#000" fill-opacity="1.0" filter="url(#f12_8)"/></g>
<g clip-path="url(#cpL3)"><ellipse cx="371.90" cy="1132.50" rx="16.75" ry="4.75" fill="#000" fill-opacity="1.0" filter="url(#f12_8)"/></g>
<g clip-path="url(#cpL3)"><ellipse cx="405.40" cy="1132.50" rx="17.50" ry="4.50" fill="#000" fill-opacity="1.0" filter="url(#f12_8)"/></g>
<g clip-path="url(#cpL3)"><ellipse cx="439.40" cy="1133.40" rx="17.50" ry="4.50" fill="#000" fill-opacity="1.0" filter="url(#f12_8)"/></g>
<g clip-path="url(#cpL3)"><ellipse cx="474.30" cy="1135.40" rx="16.50" ry="3.00" fill="#000" fill-opacity="1.0" filter="url(#f12_8)" transform="rotate(-3 474.30 1135.40)"/></g>
<g clip-path="url(#cpR1)"><rect x="509.30" y="1054.50" width="27.00" height="4.00" rx="8.10" ry="2.00" fill="#000" fill-opacity="0.05" filter="url(#f18_13)"/></g>
<g clip-path="url(#cpR1)"><rect x="510.30" y="1067.00" width="25.00" height="2.00" rx="7.50" ry="1.00" fill="#000" fill-opacity="0.04" filter="url(#f18_13)"/></g>
<g clip-path="url(#cpR1)"><rect x="537.20" y="1052.50" width="31.00" height="8.00" rx="9.30" ry="4.00" fill="#000" fill-opacity="0.1" filter="url(#f18_13)"/></g>
<g clip-path="url(#cpR1)"><rect x="539.20" y="1067.00" width="27.00" height="2.00" rx="8.10" ry="1.00" fill="#000" fill-opacity="0.04" filter="url(#f18_13)"/></g>
<g clip-path="url(#cpR1)"><rect x="568.50" y="1051.50" width="31.00" height="11.00" rx="9.30" ry="5.50" fill="#000" fill-opacity="0.16" filter="url(#f18_13)"/></g>
<g clip-path="url(#cpR1)"><rect x="569.00" y="1065.85" width="30.00" height="3.50" rx="9.00" ry="1.75" fill="#000" fill-opacity="0.48" filter="url(#f18_13)"/></g>
<g clip-path="url(#cpR1)"><rect x="602.80" y="1051.00" width="32.00" height="12.00" rx="9.60" ry="6.00" fill="#000" fill-opacity="0.22" filter="url(#f18_13)"/></g>
<g clip-path="url(#cpR1)"><rect x="603.30" y="1065.35" width="31.00" height="4.50" rx="9.30" ry="2.25" fill="#000" fill-opacity="1.0" filter="url(#f18_13)"/></g>
<g clip-path="url(#cpR1)"><rect x="637.20" y="1050.00" width="33.00" height="13.00" rx="9.90" ry="6.50" fill="#000" fill-opacity="0.32" filter="url(#f18_13)"/></g>
<g clip-path="url(#cpR1)"><rect x="637.70" y="1065.10" width="32.00" height="5.00" rx="9.60" ry="2.50" fill="#000" fill-opacity="1.0" filter="url(#f18_13)"/></g>
<g clip-path="url(#cpR1)"><rect x="674.10" y="1066.50" width="29.00" height="7.00" rx="8.70" ry="3.50" fill="#000" fill-opacity="0.14" filter="url(#f18_13)"/></g>
<g clip-path="url(#cpR1)"><rect x="674.10" y="1052.00" width="29.00" height="8.00" rx="8.70" ry="4.00" fill="#000" fill-opacity="0.04" filter="url(#f18_13)"/></g>
<defs><filter id="f18_15" x="-60%" y="-200%" width="220%" height="500%"><feGaussianBlur stdDeviation="1.8 1.5"/></filter></defs>
<g clip-path="url(#cpR2)"><rect x="510.30" y="1096.65" width="25.00" height="3.50" rx="7.50" ry="1.75" fill="#000" fill-opacity="0.08" filter="url(#f18_15)"/></g>
<g clip-path="url(#cpR2)"><rect x="536.20" y="1093.90" width="33.00" height="9.00" rx="9.90" ry="4.50" fill="#000" fill-opacity="1.0" filter="url(#f18_15)"/></g>
<g clip-path="url(#cpR2)"><rect x="567.00" y="1094.25" width="34.00" height="9.50" rx="10.20" ry="4.75" fill="#000" fill-opacity="1.0" filter="url(#f18_15)"/></g>
<g clip-path="url(#cpR2)"><rect x="600.80" y="1093.50" width="36.00" height="11.00" rx="10.80" ry="5.50" fill="#000" fill-opacity="1.0" filter="url(#f18_15)"/></g>
<g clip-path="url(#cpR2)"><rect x="602.30" y="1102.00" width="33.00" height="6.00" rx="9.90" ry="3.00" fill="#000" fill-opacity="0.3" filter="url(#f18_15)"/></g>
<g clip-path="url(#cpR2)"><rect x="635.20" y="1091.50" width="37.00" height="15.00" rx="11.10" ry="7.50" fill="#000" fill-opacity="0.85" filter="url(#f18_15)"/></g>
<g clip-path="url(#cpR2)"><rect x="672.10" y="1094.50" width="33.00" height="10.00" rx="9.90" ry="5.00" fill="#000" fill-opacity="0.9" filter="url(#f18_15)"/></g>
<g clip-path="url(#cpR2)"><rect x="679.10" y="1097.00" width="19.00" height="8.00" rx="5.70" ry="4.00" fill="#000" fill-opacity="1.0" filter="url(#f18_15)"/></g>
<g clip-path="url(#cpR3)"><ellipse cx="522.80" cy="1131.70" rx="16.00" ry="3.75" fill="#000" fill-opacity="1.0" filter="url(#f12_8)"/></g>
<g clip-path="url(#cpR3)"><ellipse cx="552.70" cy="1133.40" rx="16.00" ry="3.75" fill="#000" fill-opacity="1.0" filter="url(#f12_8)"/></g>
<g clip-path="url(#cpR3)"><ellipse cx="584.00" cy="1134.00" rx="17.50" ry="4.50" fill="#000" fill-opacity="1.0" filter="url(#f12_8)"/></g>
<g clip-path="url(#cpR3)"><ellipse cx="618.80" cy="1134.00" rx="16.50" ry="4.00" fill="#000" fill-opacity="1.0" filter="url(#f12_8)"/></g>
<g clip-path="url(#cpR3)"><ellipse cx="653.70" cy="1132.50" rx="17.50" ry="4.25" fill="#000" fill-opacity="1.0" filter="url(#f12_8)"/></g>
<g clip-path="url(#cpR3)"><ellipse cx="688.60" cy="1135.40" rx="14.50" ry="4.00" fill="#000" fill-opacity="1.0" filter="url(#f12_8)"/></g>
<rect x="92.20" y="1045.60" width="404.90" height="32.50" fill="none" stroke="#222" stroke-width="0.9"/>
<rect x="92.20" y="1081.20" width="404.90" height="31.80" fill="none" stroke="#222" stroke-width="0.9"/>
<rect x="92.20" y="1117.20" width="404.90" height="32.00" fill="none" stroke="#222" stroke-width="0.9"/>
<rect x="501.30" y="1045.60" width="203.00" height="32.50" fill="none" stroke="#222" stroke-width="0.9"/>
<rect x="501.30" y="1081.20" width="203.00" height="31.80" fill="none" stroke="#222" stroke-width="0.9"/>
<rect x="501.30" y="1117.20" width="203.00" height="32.00" fill="none" stroke="#222" stroke-width="0.9"/>
<text x="84.20" y="1066.38" font-size="12.8" fill="#111" text-anchor="end" font-weight="bold" >Spike</text>
<text x="83.00" y="1101.58" font-size="12.8" fill="#111" text-anchor="end" font-weight="bold" >Nucleocapsid</text>
<text x="83.40" y="1136.58" font-size="12.8" fill="#111" text-anchor="end" font-weight="bold" >GAPDH</text>
<line x1="704.50" y1="1067.90" x2="726.00" y2="1067.90" stroke="#111" stroke-width="1.5" />
<text x="733.50" y="1072.48" font-size="12.8" fill="#111" text-anchor="start" font-weight="normal" >180</text>
<line x1="704.50" y1="1100.30" x2="726.00" y2="1100.30" stroke="#111" stroke-width="1.5" />
<text x="735.90" y="1104.88" font-size="12.8" fill="#111" text-anchor="start" font-weight="normal" >50</text>
<line x1="704.50" y1="1132.40" x2="726.00" y2="1132.40" stroke="#111" stroke-width="1.5" />
<text x="733.50" y="1136.98" font-size="12.8" fill="#111" text-anchor="start" font-weight="normal" >36</text>
</svg></body></html>
